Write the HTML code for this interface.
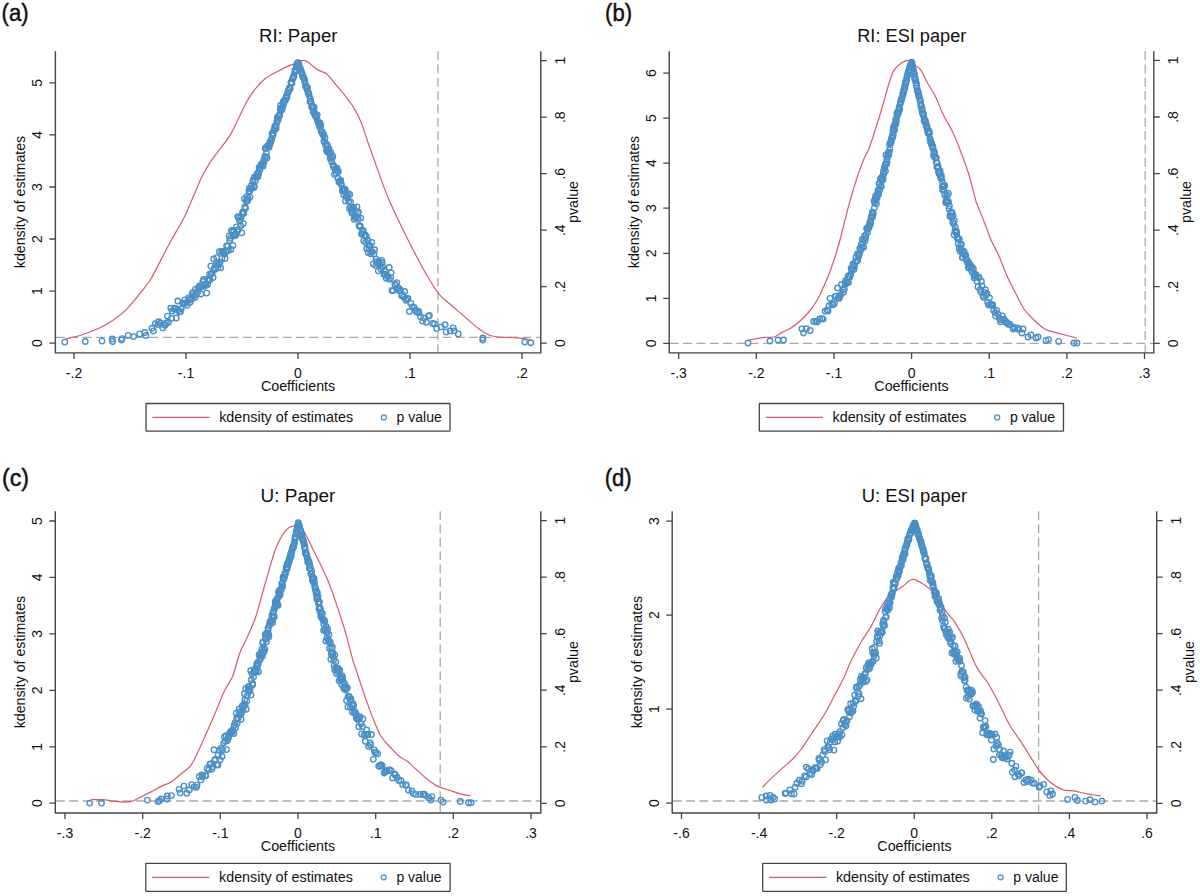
<!DOCTYPE html>
<html><head><meta charset="utf-8"><style>
html,body{margin:0;padding:0;background:#fff;}
svg{display:block;}
text{font-family:"Liberation Sans", sans-serif;fill:#111;}
</style></head><body>
<svg width="1200" height="896" viewBox="0 0 1200 896">
<rect width="1200" height="896" fill="#fff"/>
<text x="1.6" y="21" font-size="23.5" stroke="#111" stroke-width="0.45" textLength="27" lengthAdjust="spacingAndGlyphs">(a)</text>
<text x="298.2" y="42.4" font-size="18" text-anchor="middle" textLength="78.4" lengthAdjust="spacingAndGlyphs">RI: Paper</text>
<line x1="56" y1="337.4" x2="540.2" y2="337.4" stroke="#a8a8a8" stroke-width="1.3" stroke-dasharray="8.8 4.53"/>
<line x1="437.9" y1="51.2" x2="437.9" y2="352.2" stroke="#a8a8a8" stroke-width="1.3" stroke-dasharray="8.8 4.53"/>
<path d="M65.2 339.0 C67.9 338.3 75.7 336.9 81.5 335.0 C87.3 333.1 94.8 330.2 99.9 327.8 C105.0 325.4 107.8 323.8 112.2 320.7 C116.6 317.6 121.4 314.5 126.5 309.4 C131.6 304.3 138.7 295.1 142.8 290.0 C146.9 284.9 147.9 283.9 151.0 278.8 C154.1 273.7 157.8 265.9 161.2 259.4 C164.6 252.9 167.7 246.8 171.4 240.0 C175.1 233.2 180.1 225.5 183.6 218.6 C187.1 211.7 189.4 205.5 192.5 198.5 C195.6 191.5 199.1 182.6 202.0 176.6 C204.9 170.6 207.5 166.6 210.2 162.3 C212.9 158.1 215.0 155.6 218.3 151.1 C221.6 146.6 226.3 141.6 230.0 135.4 C233.7 129.2 237.7 119.9 240.7 113.9 C243.7 107.9 245.2 104.1 247.9 99.6 C250.6 95.1 253.8 90.7 256.8 87.1 C259.8 83.5 262.4 80.7 265.7 78.2 C269.0 75.7 272.8 73.9 276.4 72.0 C280.0 70.1 284.1 67.9 287.1 66.6 C290.1 65.2 292.2 64.7 294.3 63.9 C296.4 63.1 298.0 62.2 299.5 61.6 C301.0 61.0 302.0 60.3 303.4 60.4 C304.8 60.5 305.7 60.6 307.9 62.1 C310.1 63.6 314.5 67.7 316.8 69.3 C319.1 70.9 319.7 70.6 321.5 71.5 C323.3 72.4 325.0 72.3 327.5 74.6 C330.0 76.9 333.4 81.8 336.4 85.4 C339.4 89.0 342.4 92.2 345.4 96.1 C348.4 100.0 351.6 104.1 354.3 108.6 C357.0 113.1 359.0 117.0 361.4 122.9 C363.8 128.9 365.9 136.4 368.6 144.3 C371.4 152.2 374.6 161.3 377.9 170.4 C381.2 179.5 384.7 189.7 388.6 198.9 C392.5 208.1 396.9 217.1 401.1 225.7 C405.3 234.3 409.4 242.7 413.6 250.7 C417.8 258.7 421.9 266.8 426.1 273.9 C430.3 281.0 434.6 288.5 438.6 293.6 C442.6 298.7 445.9 300.5 450.2 304.3 C454.5 308.1 459.8 312.5 464.5 316.6 C469.2 320.7 474.6 325.7 478.7 328.8 C482.8 331.9 485.6 333.6 489.0 335.0 C492.4 336.4 494.8 336.6 499.2 337.0 C503.6 337.4 510.4 337.2 515.5 337.6 C520.6 338.0 527.4 339.1 529.8 339.4" fill="none" stroke="#dc5868" stroke-width="1.2" stroke-linejoin="round"/>
<g fill="none" stroke="#4a8fc5" stroke-width="1.35"><circle cx="298.0" cy="63.2" r="2.75"/><circle cx="236.3" cy="234.5" r="2.75"/><circle cx="220.7" cy="267.8" r="2.75"/><circle cx="215.3" cy="269.3" r="2.75"/><circle cx="341.0" cy="183.7" r="2.75"/><circle cx="262.2" cy="164.1" r="2.75"/><circle cx="227.3" cy="250.8" r="2.75"/><circle cx="328.1" cy="149.0" r="2.75"/><circle cx="396.8" cy="282.6" r="2.75"/><circle cx="351.3" cy="210.3" r="2.75"/><circle cx="369.1" cy="245.2" r="2.75"/><circle cx="239.0" cy="217.8" r="2.75"/><circle cx="210.8" cy="266.1" r="2.75"/><circle cx="319.2" cy="124.0" r="2.75"/><circle cx="258.7" cy="173.6" r="2.75"/><circle cx="207.5" cy="279.4" r="2.75"/><circle cx="253.2" cy="180.0" r="2.75"/><circle cx="171.5" cy="318.3" r="2.75"/><circle cx="286.5" cy="95.8" r="2.75"/><circle cx="234.2" cy="235.6" r="2.75"/><circle cx="314.6" cy="114.2" r="2.75"/><circle cx="300.2" cy="69.2" r="2.75"/><circle cx="265.2" cy="148.4" r="2.75"/><circle cx="345.5" cy="200.9" r="2.75"/><circle cx="338.9" cy="182.0" r="2.75"/><circle cx="289.9" cy="89.0" r="2.75"/><circle cx="419.0" cy="312.7" r="2.75"/><circle cx="288.4" cy="90.4" r="2.75"/><circle cx="215.0" cy="268.2" r="2.75"/><circle cx="403.7" cy="297.1" r="2.75"/><circle cx="279.7" cy="114.7" r="2.75"/><circle cx="216.4" cy="262.6" r="2.75"/><circle cx="184.8" cy="299.9" r="2.75"/><circle cx="247.8" cy="200.3" r="2.75"/><circle cx="296.4" cy="66.8" r="2.75"/><circle cx="353.0" cy="212.1" r="2.75"/><circle cx="394.8" cy="283.9" r="2.75"/><circle cx="313.3" cy="112.0" r="2.75"/><circle cx="450.2" cy="330.9" r="2.75"/><circle cx="428.3" cy="316.1" r="2.75"/><circle cx="207.6" cy="284.5" r="2.75"/><circle cx="333.9" cy="166.9" r="2.75"/><circle cx="248.2" cy="198.4" r="2.75"/><circle cx="281.7" cy="107.6" r="2.75"/><circle cx="112.2" cy="339.0" r="2.75"/><circle cx="316.0" cy="115.9" r="2.75"/><circle cx="184.0" cy="303.1" r="2.75"/><circle cx="204.1" cy="286.4" r="2.75"/><circle cx="259.9" cy="169.9" r="2.75"/><circle cx="190.1" cy="302.3" r="2.75"/><circle cx="262.6" cy="163.4" r="2.75"/><circle cx="255.8" cy="176.6" r="2.75"/><circle cx="458.3" cy="333.9" r="2.75"/><circle cx="318.7" cy="123.8" r="2.75"/><circle cx="337.7" cy="171.2" r="2.75"/><circle cx="238.5" cy="229.5" r="2.75"/><circle cx="359.6" cy="226.5" r="2.75"/><circle cx="294.0" cy="76.0" r="2.75"/><circle cx="282.1" cy="109.3" r="2.75"/><circle cx="269.1" cy="147.3" r="2.75"/><circle cx="239.6" cy="220.7" r="2.75"/><circle cx="363.7" cy="240.8" r="2.75"/><circle cx="232.9" cy="245.4" r="2.75"/><circle cx="307.2" cy="89.2" r="2.75"/><circle cx="365.2" cy="234.8" r="2.75"/><circle cx="226.5" cy="245.8" r="2.75"/><circle cx="283.1" cy="101.9" r="2.75"/><circle cx="231.5" cy="230.4" r="2.75"/><circle cx="314.1" cy="107.4" r="2.75"/><circle cx="446.1" cy="331.9" r="2.75"/><circle cx="329.8" cy="154.4" r="2.75"/><circle cx="237.2" cy="230.3" r="2.75"/><circle cx="310.0" cy="101.4" r="2.75"/><circle cx="453.2" cy="327.8" r="2.75"/><circle cx="294.6" cy="72.3" r="2.75"/><circle cx="211.1" cy="274.2" r="2.75"/><circle cx="329.0" cy="149.0" r="2.75"/><circle cx="292.5" cy="78.8" r="2.75"/><circle cx="257.9" cy="176.5" r="2.75"/><circle cx="151.9" cy="328.2" r="2.75"/><circle cx="264.9" cy="156.5" r="2.75"/><circle cx="323.8" cy="134.9" r="2.75"/><circle cx="157.8" cy="324.5" r="2.75"/><circle cx="333.2" cy="165.9" r="2.75"/><circle cx="272.1" cy="133.7" r="2.75"/><circle cx="248.9" cy="191.0" r="2.75"/><circle cx="271.5" cy="139.5" r="2.75"/><circle cx="350.9" cy="207.2" r="2.75"/><circle cx="311.6" cy="107.2" r="2.75"/><circle cx="312.7" cy="107.0" r="2.75"/><circle cx="179.5" cy="312.1" r="2.75"/><circle cx="326.9" cy="151.5" r="2.75"/><circle cx="198.4" cy="287.8" r="2.75"/><circle cx="374.6" cy="249.7" r="2.75"/><circle cx="244.4" cy="198.8" r="2.75"/><circle cx="303.0" cy="77.3" r="2.75"/><circle cx="268.4" cy="145.3" r="2.75"/><circle cx="317.2" cy="114.8" r="2.75"/><circle cx="324.5" cy="142.2" r="2.75"/><circle cx="304.6" cy="80.8" r="2.75"/><circle cx="335.9" cy="173.1" r="2.75"/><circle cx="423.8" cy="318.1" r="2.75"/><circle cx="330.8" cy="152.7" r="2.75"/><circle cx="382.7" cy="266.9" r="2.75"/><circle cx="366.4" cy="236.4" r="2.75"/><circle cx="240.3" cy="220.1" r="2.75"/><circle cx="274.2" cy="130.2" r="2.75"/><circle cx="375.7" cy="265.6" r="2.75"/><circle cx="295.1" cy="70.1" r="2.75"/><circle cx="64.8" cy="342.1" r="2.75"/><circle cx="229.2" cy="236.0" r="2.75"/><circle cx="187.6" cy="301.8" r="2.75"/><circle cx="219.1" cy="264.5" r="2.75"/><circle cx="362.5" cy="231.7" r="2.75"/><circle cx="195.0" cy="297.4" r="2.75"/><circle cx="279.3" cy="116.1" r="2.75"/><circle cx="295.5" cy="71.3" r="2.75"/><circle cx="302.4" cy="75.4" r="2.75"/><circle cx="189.7" cy="299.4" r="2.75"/><circle cx="213.7" cy="259.0" r="2.75"/><circle cx="387.0" cy="275.3" r="2.75"/><circle cx="355.4" cy="211.5" r="2.75"/><circle cx="321.1" cy="131.2" r="2.75"/><circle cx="323.9" cy="141.1" r="2.75"/><circle cx="266.5" cy="153.3" r="2.75"/><circle cx="247.3" cy="200.9" r="2.75"/><circle cx="263.9" cy="159.9" r="2.75"/><circle cx="217.7" cy="264.6" r="2.75"/><circle cx="344.3" cy="189.5" r="2.75"/><circle cx="275.1" cy="126.4" r="2.75"/><circle cx="329.1" cy="152.3" r="2.75"/><circle cx="416.6" cy="312.0" r="2.75"/><circle cx="358.1" cy="218.4" r="2.75"/><circle cx="384.3" cy="270.2" r="2.75"/><circle cx="290.9" cy="82.4" r="2.75"/><circle cx="236.5" cy="226.9" r="2.75"/><circle cx="273.8" cy="130.3" r="2.75"/><circle cx="162.8" cy="327.9" r="2.75"/><circle cx="158.6" cy="321.7" r="2.75"/><circle cx="191.6" cy="299.2" r="2.75"/><circle cx="168.5" cy="322.2" r="2.75"/><circle cx="341.5" cy="184.8" r="2.75"/><circle cx="320.0" cy="122.9" r="2.75"/><circle cx="333.5" cy="165.1" r="2.75"/><circle cx="344.5" cy="189.7" r="2.75"/><circle cx="249.7" cy="191.1" r="2.75"/><circle cx="187.0" cy="305.3" r="2.75"/><circle cx="284.9" cy="100.6" r="2.75"/><circle cx="347.3" cy="196.3" r="2.75"/><circle cx="210.0" cy="279.8" r="2.75"/><circle cx="322.0" cy="132.1" r="2.75"/><circle cx="339.5" cy="181.4" r="2.75"/><circle cx="217.9" cy="267.8" r="2.75"/><circle cx="220.1" cy="262.1" r="2.75"/><circle cx="240.8" cy="225.7" r="2.75"/><circle cx="352.5" cy="208.6" r="2.75"/><circle cx="196.1" cy="294.7" r="2.75"/><circle cx="422.6" cy="321.1" r="2.75"/><circle cx="374.1" cy="254.0" r="2.75"/><circle cx="398.5" cy="288.0" r="2.75"/><circle cx="167.4" cy="316.1" r="2.75"/><circle cx="288.1" cy="92.6" r="2.75"/><circle cx="177.9" cy="309.8" r="2.75"/><circle cx="330.3" cy="158.4" r="2.75"/><circle cx="112.6" cy="341.5" r="2.75"/><circle cx="202.1" cy="286.0" r="2.75"/><circle cx="372.4" cy="251.9" r="2.75"/><circle cx="277.3" cy="117.6" r="2.75"/><circle cx="308.7" cy="93.6" r="2.75"/><circle cx="285.8" cy="97.8" r="2.75"/><circle cx="429.4" cy="315.5" r="2.75"/><circle cx="250.8" cy="188.4" r="2.75"/><circle cx="295.9" cy="69.7" r="2.75"/><circle cx="202.9" cy="281.5" r="2.75"/><circle cx="386.2" cy="278.2" r="2.75"/><circle cx="317.4" cy="120.2" r="2.75"/><circle cx="200.8" cy="294.0" r="2.75"/><circle cx="305.6" cy="85.9" r="2.75"/><circle cx="315.7" cy="116.7" r="2.75"/><circle cx="320.2" cy="127.2" r="2.75"/><circle cx="250.0" cy="197.1" r="2.75"/><circle cx="371.4" cy="251.7" r="2.75"/><circle cx="382.2" cy="262.7" r="2.75"/><circle cx="175.4" cy="308.2" r="2.75"/><circle cx="358.4" cy="212.1" r="2.75"/><circle cx="246.3" cy="201.1" r="2.75"/><circle cx="326.1" cy="143.9" r="2.75"/><circle cx="318.2" cy="122.3" r="2.75"/><circle cx="254.3" cy="186.5" r="2.75"/><circle cx="180.5" cy="311.4" r="2.75"/><circle cx="303.6" cy="77.8" r="2.75"/><circle cx="316.7" cy="116.8" r="2.75"/><circle cx="244.9" cy="207.0" r="2.75"/><circle cx="235.7" cy="234.3" r="2.75"/><circle cx="197.5" cy="292.4" r="2.75"/><circle cx="272.9" cy="135.6" r="2.75"/><circle cx="276.9" cy="121.7" r="2.75"/><circle cx="251.6" cy="188.4" r="2.75"/><circle cx="291.2" cy="82.7" r="2.75"/><circle cx="274.7" cy="126.4" r="2.75"/><circle cx="192.3" cy="293.4" r="2.75"/><circle cx="482.8" cy="338.0" r="2.75"/><circle cx="400.3" cy="289.8" r="2.75"/><circle cx="267.0" cy="157.9" r="2.75"/><circle cx="145.9" cy="335.4" r="2.75"/><circle cx="233.7" cy="230.7" r="2.75"/><circle cx="303.8" cy="77.9" r="2.75"/><circle cx="278.2" cy="119.9" r="2.75"/><circle cx="319.5" cy="126.6" r="2.75"/><circle cx="267.7" cy="146.4" r="2.75"/><circle cx="297.4" cy="63.2" r="2.75"/><circle cx="234.9" cy="235.7" r="2.75"/><circle cx="342.3" cy="190.8" r="2.75"/><circle cx="213.1" cy="277.5" r="2.75"/><circle cx="155.3" cy="323.6" r="2.75"/><circle cx="257.0" cy="177.0" r="2.75"/><circle cx="342.7" cy="188.5" r="2.75"/><circle cx="260.2" cy="166.8" r="2.75"/><circle cx="367.7" cy="240.5" r="2.75"/><circle cx="405.9" cy="300.2" r="2.75"/><circle cx="378.9" cy="261.5" r="2.75"/><circle cx="315.1" cy="114.9" r="2.75"/><circle cx="399.3" cy="290.7" r="2.75"/><circle cx="301.3" cy="71.8" r="2.75"/><circle cx="389.2" cy="267.5" r="2.75"/><circle cx="261.0" cy="165.6" r="2.75"/><circle cx="299.3" cy="66.6" r="2.75"/><circle cx="243.8" cy="213.3" r="2.75"/><circle cx="221.9" cy="258.4" r="2.75"/><circle cx="356.5" cy="217.3" r="2.75"/><circle cx="286.3" cy="98.2" r="2.75"/><circle cx="254.6" cy="176.8" r="2.75"/><circle cx="228.4" cy="250.6" r="2.75"/><circle cx="242.7" cy="212.0" r="2.75"/><circle cx="177.8" cy="301.0" r="2.75"/><circle cx="289.2" cy="88.5" r="2.75"/><circle cx="308.6" cy="93.1" r="2.75"/><circle cx="336.6" cy="170.6" r="2.75"/><circle cx="223.9" cy="252.8" r="2.75"/><circle cx="335.0" cy="169.2" r="2.75"/><circle cx="259.1" cy="167.7" r="2.75"/><circle cx="301.7" cy="72.2" r="2.75"/><circle cx="241.8" cy="232.8" r="2.75"/><circle cx="370.0" cy="245.6" r="2.75"/><circle cx="282.4" cy="107.3" r="2.75"/><circle cx="224.6" cy="254.0" r="2.75"/><circle cx="263.1" cy="166.1" r="2.75"/><circle cx="283.3" cy="104.9" r="2.75"/><circle cx="102.0" cy="341.1" r="2.75"/><circle cx="291.5" cy="82.9" r="2.75"/><circle cx="153.4" cy="330.9" r="2.75"/><circle cx="322.3" cy="132.2" r="2.75"/><circle cx="165.2" cy="325.0" r="2.75"/><circle cx="188.6" cy="297.8" r="2.75"/><circle cx="304.3" cy="79.1" r="2.75"/><circle cx="349.5" cy="208.4" r="2.75"/><circle cx="310.4" cy="98.8" r="2.75"/><circle cx="393.1" cy="290.6" r="2.75"/><circle cx="160.5" cy="322.8" r="2.75"/><circle cx="225.0" cy="258.5" r="2.75"/><circle cx="166.4" cy="323.0" r="2.75"/><circle cx="320.6" cy="125.0" r="2.75"/><circle cx="242.3" cy="213.7" r="2.75"/><circle cx="265.5" cy="157.0" r="2.75"/><circle cx="412.3" cy="306.8" r="2.75"/><circle cx="285.4" cy="100.3" r="2.75"/><circle cx="361.5" cy="234.1" r="2.75"/><circle cx="346.7" cy="194.9" r="2.75"/><circle cx="227.9" cy="246.0" r="2.75"/><circle cx="269.3" cy="145.0" r="2.75"/><circle cx="409.4" cy="311.5" r="2.75"/><circle cx="369.0" cy="249.0" r="2.75"/><circle cx="195.3" cy="289.4" r="2.75"/><circle cx="354.4" cy="217.1" r="2.75"/><circle cx="212.2" cy="272.7" r="2.75"/><circle cx="270.3" cy="143.4" r="2.75"/><circle cx="121.4" cy="340.1" r="2.75"/><circle cx="360.3" cy="226.1" r="2.75"/><circle cx="172.2" cy="311.0" r="2.75"/><circle cx="376.0" cy="259.1" r="2.75"/><circle cx="222.7" cy="251.3" r="2.75"/><circle cx="338.4" cy="171.4" r="2.75"/><circle cx="226.0" cy="251.6" r="2.75"/><circle cx="309.2" cy="95.7" r="2.75"/><circle cx="340.1" cy="181.2" r="2.75"/><circle cx="327.5" cy="145.4" r="2.75"/><circle cx="345.2" cy="189.3" r="2.75"/><circle cx="332.4" cy="157.1" r="2.75"/><circle cx="337.9" cy="178.2" r="2.75"/><circle cx="307.8" cy="91.7" r="2.75"/><circle cx="264.0" cy="162.0" r="2.75"/><circle cx="193.6" cy="295.6" r="2.75"/><circle cx="378.3" cy="270.8" r="2.75"/><circle cx="373.3" cy="263.9" r="2.75"/><circle cx="289.3" cy="88.2" r="2.75"/><circle cx="204.8" cy="284.3" r="2.75"/><circle cx="243.3" cy="223.6" r="2.75"/><circle cx="349.7" cy="194.5" r="2.75"/><circle cx="223.1" cy="252.2" r="2.75"/><circle cx="219.3" cy="251.6" r="2.75"/><circle cx="350.6" cy="202.2" r="2.75"/><circle cx="379.6" cy="264.2" r="2.75"/><circle cx="343.8" cy="194.7" r="2.75"/><circle cx="322.9" cy="135.0" r="2.75"/><circle cx="299.0" cy="65.5" r="2.75"/><circle cx="445.0" cy="324.7" r="2.75"/><circle cx="426.4" cy="322.2" r="2.75"/><circle cx="524.7" cy="342.1" r="2.75"/><circle cx="328.4" cy="152.2" r="2.75"/><circle cx="347.7" cy="198.5" r="2.75"/><circle cx="193.3" cy="292.3" r="2.75"/><circle cx="454.2" cy="330.9" r="2.75"/><circle cx="290.2" cy="87.9" r="2.75"/><circle cx="326.5" cy="150.5" r="2.75"/><circle cx="391.1" cy="272.8" r="2.75"/><circle cx="270.7" cy="141.8" r="2.75"/><circle cx="432.7" cy="323.5" r="2.75"/><circle cx="85.2" cy="341.5" r="2.75"/><circle cx="230.4" cy="238.3" r="2.75"/><circle cx="353.7" cy="207.3" r="2.75"/><circle cx="252.9" cy="181.7" r="2.75"/><circle cx="360.7" cy="218.1" r="2.75"/><circle cx="246.8" cy="196.7" r="2.75"/><circle cx="371.8" cy="242.5" r="2.75"/><circle cx="366.7" cy="248.7" r="2.75"/><circle cx="251.1" cy="185.9" r="2.75"/><circle cx="296.9" cy="65.8" r="2.75"/><circle cx="229.7" cy="240.7" r="2.75"/><circle cx="357.7" cy="212.7" r="2.75"/><circle cx="277.9" cy="118.1" r="2.75"/><circle cx="292.9" cy="78.4" r="2.75"/><circle cx="292.0" cy="83.1" r="2.75"/><circle cx="390.7" cy="277.6" r="2.75"/><circle cx="404.6" cy="291.5" r="2.75"/><circle cx="280.7" cy="105.5" r="2.75"/><circle cx="323.1" cy="133.8" r="2.75"/><circle cx="293.5" cy="76.7" r="2.75"/><circle cx="253.9" cy="187.4" r="2.75"/><circle cx="299.8" cy="67.7" r="2.75"/><circle cx="370.6" cy="253.8" r="2.75"/><circle cx="401.7" cy="295.8" r="2.75"/><circle cx="332.8" cy="156.4" r="2.75"/><circle cx="182.8" cy="303.3" r="2.75"/><circle cx="209.6" cy="274.2" r="2.75"/><circle cx="275.5" cy="127.2" r="2.75"/><circle cx="278.7" cy="116.0" r="2.75"/><circle cx="185.4" cy="303.2" r="2.75"/><circle cx="408.0" cy="298.3" r="2.75"/><circle cx="273.1" cy="133.2" r="2.75"/><circle cx="359.1" cy="225.5" r="2.75"/><circle cx="336.9" cy="168.2" r="2.75"/><circle cx="354.1" cy="219.2" r="2.75"/><circle cx="305.1" cy="82.8" r="2.75"/><circle cx="284.6" cy="100.1" r="2.75"/><circle cx="296.9" cy="65.1" r="2.75"/><circle cx="436.6" cy="328.4" r="2.75"/><circle cx="298.3" cy="62.7" r="2.75"/><circle cx="249.3" cy="188.4" r="2.75"/><circle cx="306.1" cy="86.8" r="2.75"/><circle cx="221.6" cy="251.3" r="2.75"/><circle cx="199.6" cy="286.0" r="2.75"/><circle cx="530.8" cy="342.7" r="2.75"/><circle cx="216.7" cy="257.6" r="2.75"/><circle cx="306.6" cy="87.4" r="2.75"/><circle cx="133.6" cy="336.6" r="2.75"/><circle cx="420.5" cy="316.8" r="2.75"/><circle cx="307.4" cy="87.3" r="2.75"/><circle cx="314.4" cy="112.5" r="2.75"/><circle cx="363.2" cy="230.3" r="2.75"/><circle cx="208.6" cy="280.6" r="2.75"/><circle cx="214.4" cy="268.2" r="2.75"/><circle cx="252.3" cy="187.9" r="2.75"/><circle cx="287.7" cy="92.9" r="2.75"/><circle cx="312.0" cy="105.6" r="2.75"/><circle cx="271.5" cy="139.0" r="2.75"/><circle cx="283.7" cy="102.7" r="2.75"/><circle cx="174.0" cy="309.0" r="2.75"/><circle cx="348.3" cy="193.7" r="2.75"/><circle cx="176.3" cy="318.0" r="2.75"/><circle cx="364.1" cy="235.9" r="2.75"/><circle cx="385.2" cy="274.2" r="2.75"/><circle cx="346.1" cy="195.7" r="2.75"/><circle cx="302.2" cy="74.0" r="2.75"/><circle cx="407.2" cy="298.7" r="2.75"/><circle cx="261.3" cy="164.5" r="2.75"/><circle cx="381.7" cy="260.3" r="2.75"/><circle cx="415.2" cy="310.2" r="2.75"/><circle cx="237.8" cy="216.7" r="2.75"/><circle cx="482.8" cy="340.0" r="2.75"/><circle cx="181.2" cy="308.8" r="2.75"/><circle cx="389.4" cy="279.3" r="2.75"/><circle cx="200.3" cy="286.1" r="2.75"/><circle cx="331.7" cy="161.8" r="2.75"/><circle cx="258.1" cy="172.8" r="2.75"/><circle cx="206.7" cy="293.1" r="2.75"/><circle cx="203.7" cy="279.5" r="2.75"/><circle cx="310.6" cy="101.1" r="2.75"/><circle cx="355.5" cy="217.3" r="2.75"/><circle cx="231.9" cy="232.1" r="2.75"/><circle cx="357.0" cy="206.8" r="2.75"/><circle cx="245.6" cy="208.2" r="2.75"/><circle cx="377.8" cy="263.6" r="2.75"/><circle cx="276.3" cy="124.9" r="2.75"/><circle cx="311.0" cy="102.2" r="2.75"/><circle cx="266.1" cy="147.7" r="2.75"/><circle cx="164.2" cy="325.1" r="2.75"/><circle cx="205.8" cy="285.3" r="2.75"/><circle cx="267.5" cy="145.9" r="2.75"/><circle cx="312.9" cy="108.0" r="2.75"/><circle cx="351.8" cy="212.9" r="2.75"/><circle cx="402.4" cy="294.4" r="2.75"/><circle cx="287.0" cy="97.3" r="2.75"/><circle cx="199.2" cy="288.2" r="2.75"/><circle cx="335.9" cy="168.5" r="2.75"/><circle cx="233.1" cy="235.7" r="2.75"/><circle cx="122.0" cy="338.6" r="2.75"/><circle cx="392.0" cy="290.5" r="2.75"/><circle cx="395.5" cy="285.1" r="2.75"/><circle cx="368.2" cy="252.6" r="2.75"/><circle cx="300.6" cy="69.4" r="2.75"/><circle cx="396.6" cy="288.7" r="2.75"/><circle cx="410.9" cy="303.4" r="2.75"/><circle cx="128.1" cy="335.4" r="2.75"/><circle cx="376.7" cy="261.7" r="2.75"/><circle cx="331.1" cy="158.6" r="2.75"/><circle cx="139.7" cy="333.9" r="2.75"/><circle cx="255.5" cy="180.7" r="2.75"/><circle cx="256.2" cy="176.8" r="2.75"/><circle cx="276.1" cy="128.4" r="2.75"/><circle cx="257.1" cy="173.9" r="2.75"/><circle cx="261.8" cy="165.4" r="2.75"/><circle cx="230.8" cy="249.5" r="2.75"/><circle cx="170.8" cy="308.2" r="2.75"/><circle cx="383.9" cy="274.3" r="2.75"/><circle cx="414.1" cy="307.3" r="2.75"/><circle cx="340.8" cy="180.5" r="2.75"/><circle cx="380.9" cy="269.0" r="2.75"/><circle cx="325.6" cy="144.9" r="2.75"/><circle cx="144.8" cy="332.5" r="2.75"/><circle cx="441.0" cy="326.8" r="2.75"/><circle cx="365.7" cy="242.4" r="2.75"/><circle cx="342.9" cy="190.5" r="2.75"/><circle cx="270.0" cy="141.9" r="2.75"/><circle cx="334.5" cy="174.4" r="2.75"/><circle cx="387.8" cy="276.8" r="2.75"/><circle cx="325.0" cy="137.7" r="2.75"/><circle cx="348.7" cy="201.2" r="2.75"/><circle cx="418.5" cy="311.2" r="2.75"/><circle cx="280.3" cy="109.4" r="2.75"/><circle cx="361.8" cy="233.6" r="2.75"/><circle cx="241.2" cy="216.7" r="2.75"/><circle cx="434.5" cy="323.9" r="2.75"/><circle cx="281.3" cy="110.6" r="2.75"/></g>
<path d="M55.4 51.2 V352.9 H540.8 V51.2" fill="none" stroke="#454545" stroke-width="1.4" stroke-linejoin="round"/>
<text x="74.0" y="377.5" font-size="14" text-anchor="middle">-.2</text>
<text x="186.0" y="377.5" font-size="14" text-anchor="middle">-.1</text>
<text x="298.0" y="377.5" font-size="14" text-anchor="middle">0</text>
<text x="410.0" y="377.5" font-size="14" text-anchor="middle">.1</text>
<text x="522.0" y="377.5" font-size="14" text-anchor="middle">.2</text>
<text transform="translate(42.3 343.2) rotate(-90)" font-size="14" text-anchor="middle">0</text>
<text transform="translate(42.3 291.1) rotate(-90)" font-size="14" text-anchor="middle">1</text>
<text transform="translate(42.3 239.0) rotate(-90)" font-size="14" text-anchor="middle">2</text>
<text transform="translate(42.3 187.0) rotate(-90)" font-size="14" text-anchor="middle">3</text>
<text transform="translate(42.3 134.9) rotate(-90)" font-size="14" text-anchor="middle">4</text>
<text transform="translate(42.3 82.8) rotate(-90)" font-size="14" text-anchor="middle">5</text>
<text transform="translate(565 343.2) rotate(-90)" font-size="14" text-anchor="middle">0</text>
<text transform="translate(565 286.7) rotate(-90)" font-size="14" text-anchor="middle">.2</text>
<text transform="translate(565 230.2) rotate(-90)" font-size="14" text-anchor="middle">.4</text>
<text transform="translate(565 173.7) rotate(-90)" font-size="14" text-anchor="middle">.6</text>
<text transform="translate(565 117.2) rotate(-90)" font-size="14" text-anchor="middle">.8</text>
<text transform="translate(565 60.6) rotate(-90)" font-size="14" text-anchor="middle">1</text>
<path d="M74.0 352.9 v6 M186.0 352.9 v6 M298.0 352.9 v6 M410.0 352.9 v6 M522.0 352.9 v6 M55.4 343.2 h-6 M55.4 291.1 h-6 M55.4 239.0 h-6 M55.4 187.0 h-6 M55.4 134.9 h-6 M55.4 82.8 h-6 M540.8 343.2 h6 M540.8 286.7 h6 M540.8 230.2 h6 M540.8 173.7 h6 M540.8 117.2 h6 M540.8 60.6 h6" stroke="#454545" stroke-width="1.3"/>
<text x="298.1" y="391.2" font-size="14" text-anchor="middle" textLength="74.3" lengthAdjust="spacingAndGlyphs">Coefficients</text>
<text transform="translate(25.2 202.0) rotate(-90)" font-size="15" text-anchor="middle" textLength="132.4" lengthAdjust="spacingAndGlyphs">kdensity of estimates</text>
<text transform="translate(578.4 202.0) rotate(-90)" font-size="15" text-anchor="middle" textLength="42" lengthAdjust="spacingAndGlyphs">pvalue</text>
<rect x="146" y="403.5" width="304" height="27.7" fill="none" stroke="#454545" stroke-width="1.3" stroke-linejoin="round" rx="0.6"/>
<line x1="152.4" y1="417.4" x2="209.7" y2="417.4" stroke="#dc5868" stroke-width="1.2"/>
<text x="219.2" y="422.0" font-size="14" textLength="133.9" lengthAdjust="spacingAndGlyphs">kdensity of estimates</text>
<circle cx="383.9" cy="417.4" r="2.5" fill="none" stroke="#4a8fc5" stroke-width="1.25"/>
<text x="396.6" y="422.0" font-size="14">p value</text>
<text x="605.1" y="21" font-size="23.5" stroke="#111" stroke-width="0.45" textLength="27" lengthAdjust="spacingAndGlyphs">(b)</text>
<text x="911.8" y="42.3" font-size="18" text-anchor="middle" textLength="109.1" lengthAdjust="spacingAndGlyphs">RI: ESI paper</text>
<line x1="669.8" y1="343.3" x2="1153.2" y2="343.3" stroke="#a8a8a8" stroke-width="1.3" stroke-dasharray="8.8 4.53"/>
<line x1="1145.2" y1="51.2" x2="1145.2" y2="352.2" stroke="#a8a8a8" stroke-width="1.3" stroke-dasharray="8.8 4.53"/>
<path d="M749.0 340.0 C751.5 339.6 759.8 337.9 764.0 337.4 C768.2 336.9 771.0 337.8 774.0 337.0 C777.0 336.2 779.2 333.9 782.0 332.4 C784.8 330.9 788.0 329.9 791.0 328.0 C794.0 326.1 797.2 323.5 800.0 321.0 C802.8 318.5 805.3 316.2 808.0 313.0 C810.7 309.8 813.3 306.5 816.0 302.0 C818.7 297.5 821.3 292.0 824.0 286.0 C826.7 280.0 829.3 273.7 832.0 266.0 C834.7 258.3 837.7 248.3 840.0 240.0 C842.3 231.7 844.2 222.8 846.0 216.0 C847.8 209.2 848.6 205.5 850.5 199.1 C852.4 192.7 855.0 184.0 857.2 177.3 C859.4 170.6 862.0 163.7 863.9 158.9 C865.8 154.2 866.9 153.8 868.9 148.8 C870.9 143.8 873.4 135.7 875.6 128.7 C877.8 121.7 880.1 114.5 882.3 107.0 C884.5 99.5 887.0 89.7 889.0 83.5 C891.0 77.3 892.0 73.4 894.0 70.1 C896.0 66.8 898.5 65.0 900.8 63.4 C903.0 61.8 905.7 60.7 907.5 60.4 C909.3 60.1 910.1 60.6 911.5 61.5 C912.9 62.4 914.2 64.5 915.8 65.9 C917.4 67.3 919.1 67.4 920.9 70.1 C922.7 72.8 924.4 77.5 926.8 81.8 C929.2 86.1 932.4 90.5 935.2 96.1 C938.0 101.7 940.6 109.3 943.5 115.3 C946.4 121.3 949.9 126.2 952.7 132.1 C955.5 138.0 957.6 143.5 960.3 150.5 C963.0 157.5 966.2 165.9 968.7 174.0 C971.2 182.1 974.0 194.1 975.4 199.1 C976.8 204.1 975.4 199.8 977.0 204.0 C978.6 208.2 982.7 218.0 985.0 224.0 C987.3 230.0 988.7 234.7 991.0 240.0 C993.3 245.3 996.3 250.0 999.0 256.0 C1001.7 262.0 1004.3 270.0 1007.0 276.0 C1009.7 282.0 1012.2 286.5 1015.0 292.0 C1017.8 297.5 1021.0 304.5 1024.0 309.0 C1027.0 313.5 1029.5 315.7 1033.0 319.0 C1036.5 322.3 1040.3 326.5 1045.0 329.0 C1049.7 331.5 1055.7 332.5 1061.0 334.0 C1066.3 335.5 1074.3 337.3 1077.0 338.0" fill="none" stroke="#dc5868" stroke-width="1.2" stroke-linejoin="round"/>
<g fill="none" stroke="#4a8fc5" stroke-width="1.35"><circle cx="970.2" cy="264.6" r="2.75"/><circle cx="916.7" cy="85.8" r="2.75"/><circle cx="848.1" cy="276.0" r="2.75"/><circle cx="871.2" cy="217.2" r="2.75"/><circle cx="1058.6" cy="341.4" r="2.75"/><circle cx="914.9" cy="79.4" r="2.75"/><circle cx="1023.0" cy="329.0" r="2.75"/><circle cx="942.4" cy="186.7" r="2.75"/><circle cx="893.0" cy="130.4" r="2.75"/><circle cx="870.0" cy="222.2" r="2.75"/><circle cx="938.8" cy="171.7" r="2.75"/><circle cx="1012.7" cy="327.0" r="2.75"/><circle cx="901.2" cy="99.9" r="2.75"/><circle cx="925.1" cy="120.7" r="2.75"/><circle cx="911.2" cy="63.8" r="2.75"/><circle cx="930.9" cy="142.5" r="2.75"/><circle cx="935.4" cy="157.2" r="2.75"/><circle cx="923.7" cy="116.4" r="2.75"/><circle cx="919.2" cy="96.3" r="2.75"/><circle cx="894.5" cy="130.3" r="2.75"/><circle cx="923.1" cy="113.9" r="2.75"/><circle cx="874.3" cy="208.0" r="2.75"/><circle cx="855.5" cy="261.9" r="2.75"/><circle cx="975.3" cy="275.0" r="2.75"/><circle cx="921.9" cy="110.4" r="2.75"/><circle cx="987.7" cy="302.4" r="2.75"/><circle cx="856.8" cy="261.0" r="2.75"/><circle cx="864.5" cy="235.9" r="2.75"/><circle cx="937.2" cy="163.3" r="2.75"/><circle cx="993.6" cy="310.6" r="2.75"/><circle cx="911.1" cy="64.5" r="2.75"/><circle cx="936.4" cy="162.5" r="2.75"/><circle cx="862.3" cy="239.4" r="2.75"/><circle cx="901.3" cy="100.0" r="2.75"/><circle cx="958.8" cy="238.9" r="2.75"/><circle cx="961.9" cy="251.5" r="2.75"/><circle cx="917.0" cy="88.1" r="2.75"/><circle cx="1048.6" cy="339.6" r="2.75"/><circle cx="819.7" cy="318.9" r="2.75"/><circle cx="920.3" cy="100.5" r="2.75"/><circle cx="903.9" cy="89.9" r="2.75"/><circle cx="921.0" cy="106.4" r="2.75"/><circle cx="990.4" cy="304.6" r="2.75"/><circle cx="984.3" cy="292.3" r="2.75"/><circle cx="829.1" cy="305.6" r="2.75"/><circle cx="867.5" cy="232.2" r="2.75"/><circle cx="930.3" cy="139.8" r="2.75"/><circle cx="895.6" cy="119.6" r="2.75"/><circle cx="910.4" cy="67.3" r="2.75"/><circle cx="920.6" cy="103.7" r="2.75"/><circle cx="888.7" cy="154.9" r="2.75"/><circle cx="846.4" cy="282.2" r="2.75"/><circle cx="1077.0" cy="343.0" r="2.75"/><circle cx="898.4" cy="113.3" r="2.75"/><circle cx="875.7" cy="195.6" r="2.75"/><circle cx="1004.1" cy="319.2" r="2.75"/><circle cx="981.4" cy="281.2" r="2.75"/><circle cx="860.2" cy="248.4" r="2.75"/><circle cx="909.8" cy="68.2" r="2.75"/><circle cx="886.7" cy="163.9" r="2.75"/><circle cx="897.5" cy="114.5" r="2.75"/><circle cx="897.9" cy="112.2" r="2.75"/><circle cx="878.1" cy="190.1" r="2.75"/><circle cx="883.3" cy="171.5" r="2.75"/><circle cx="853.4" cy="265.1" r="2.75"/><circle cx="948.5" cy="201.9" r="2.75"/><circle cx="908.2" cy="72.4" r="2.75"/><circle cx="865.6" cy="238.1" r="2.75"/><circle cx="949.8" cy="215.7" r="2.75"/><circle cx="881.3" cy="186.5" r="2.75"/><circle cx="896.3" cy="120.9" r="2.75"/><circle cx="889.8" cy="148.8" r="2.75"/><circle cx="946.5" cy="202.2" r="2.75"/><circle cx="893.9" cy="126.2" r="2.75"/><circle cx="971.5" cy="270.3" r="2.75"/><circle cx="926.6" cy="127.0" r="2.75"/><circle cx="880.4" cy="178.9" r="2.75"/><circle cx="882.2" cy="180.5" r="2.75"/><circle cx="905.0" cy="87.8" r="2.75"/><circle cx="936.9" cy="167.1" r="2.75"/><circle cx="844.4" cy="289.0" r="2.75"/><circle cx="962.7" cy="257.3" r="2.75"/><circle cx="890.5" cy="143.6" r="2.75"/><circle cx="929.4" cy="133.6" r="2.75"/><circle cx="1002.2" cy="315.8" r="2.75"/><circle cx="909.8" cy="66.4" r="2.75"/><circle cx="942.8" cy="189.9" r="2.75"/><circle cx="954.9" cy="231.0" r="2.75"/><circle cx="940.8" cy="177.2" r="2.75"/><circle cx="975.7" cy="274.4" r="2.75"/><circle cx="1036.0" cy="338.0" r="2.75"/><circle cx="943.9" cy="189.4" r="2.75"/><circle cx="885.2" cy="165.0" r="2.75"/><circle cx="866.7" cy="228.5" r="2.75"/><circle cx="912.2" cy="65.3" r="2.75"/><circle cx="902.0" cy="97.9" r="2.75"/><circle cx="935.0" cy="157.4" r="2.75"/><circle cx="947.0" cy="202.0" r="2.75"/><circle cx="850.7" cy="274.2" r="2.75"/><circle cx="874.1" cy="200.8" r="2.75"/><circle cx="899.7" cy="109.3" r="2.75"/><circle cx="973.4" cy="269.0" r="2.75"/><circle cx="960.1" cy="251.2" r="2.75"/><circle cx="1017.5" cy="327.9" r="2.75"/><circle cx="827.1" cy="310.1" r="2.75"/><circle cx="930.0" cy="139.0" r="2.75"/><circle cx="954.1" cy="234.8" r="2.75"/><circle cx="925.4" cy="120.8" r="2.75"/><circle cx="1038.0" cy="337.0" r="2.75"/><circle cx="845.6" cy="280.7" r="2.75"/><circle cx="831.6" cy="304.0" r="2.75"/><circle cx="938.6" cy="171.3" r="2.75"/><circle cx="890.3" cy="142.6" r="2.75"/><circle cx="869.1" cy="225.4" r="2.75"/><circle cx="904.0" cy="90.5" r="2.75"/><circle cx="911.9" cy="62.7" r="2.75"/><circle cx="872.3" cy="212.2" r="2.75"/><circle cx="886.0" cy="154.9" r="2.75"/><circle cx="857.6" cy="260.5" r="2.75"/><circle cx="905.8" cy="81.2" r="2.75"/><circle cx="813.7" cy="321.4" r="2.75"/><circle cx="966.1" cy="259.0" r="2.75"/><circle cx="899.1" cy="108.0" r="2.75"/><circle cx="970.0" cy="265.7" r="2.75"/><circle cx="902.9" cy="93.1" r="2.75"/><circle cx="933.1" cy="148.5" r="2.75"/><circle cx="925.8" cy="123.5" r="2.75"/><circle cx="964.1" cy="251.4" r="2.75"/><circle cx="953.1" cy="215.9" r="2.75"/><circle cx="961.1" cy="248.4" r="2.75"/><circle cx="1006.8" cy="322.5" r="2.75"/><circle cx="875.5" cy="197.7" r="2.75"/><circle cx="954.4" cy="220.9" r="2.75"/><circle cx="978.0" cy="286.9" r="2.75"/><circle cx="926.3" cy="125.4" r="2.75"/><circle cx="861.3" cy="244.5" r="2.75"/><circle cx="887.1" cy="162.1" r="2.75"/><circle cx="985.5" cy="289.8" r="2.75"/><circle cx="884.7" cy="168.2" r="2.75"/><circle cx="930.5" cy="141.5" r="2.75"/><circle cx="806.4" cy="328.7" r="2.75"/><circle cx="953.7" cy="224.1" r="2.75"/><circle cx="1006.3" cy="322.8" r="2.75"/><circle cx="959.3" cy="239.1" r="2.75"/><circle cx="934.4" cy="152.1" r="2.75"/><circle cx="900.4" cy="102.5" r="2.75"/><circle cx="932.8" cy="147.5" r="2.75"/><circle cx="923.4" cy="113.6" r="2.75"/><circle cx="927.7" cy="131.7" r="2.75"/><circle cx="879.8" cy="190.0" r="2.75"/><circle cx="886.9" cy="159.1" r="2.75"/><circle cx="900.1" cy="104.1" r="2.75"/><circle cx="982.0" cy="285.8" r="2.75"/><circle cx="976.4" cy="276.4" r="2.75"/><circle cx="866.0" cy="234.8" r="2.75"/><circle cx="916.0" cy="82.9" r="2.75"/><circle cx="928.7" cy="133.8" r="2.75"/><circle cx="952.7" cy="222.2" r="2.75"/><circle cx="1001.2" cy="319.7" r="2.75"/><circle cx="961.4" cy="244.5" r="2.75"/><circle cx="891.2" cy="142.1" r="2.75"/><circle cx="935.7" cy="158.0" r="2.75"/><circle cx="836.0" cy="296.1" r="2.75"/><circle cx="832.9" cy="304.7" r="2.75"/><circle cx="946.3" cy="200.4" r="2.75"/><circle cx="966.4" cy="260.1" r="2.75"/><circle cx="987.1" cy="294.0" r="2.75"/><circle cx="854.0" cy="269.3" r="2.75"/><circle cx="918.4" cy="93.1" r="2.75"/><circle cx="896.9" cy="113.3" r="2.75"/><circle cx="835.4" cy="296.3" r="2.75"/><circle cx="962.3" cy="257.6" r="2.75"/><circle cx="859.4" cy="254.0" r="2.75"/><circle cx="914.5" cy="77.2" r="2.75"/><circle cx="904.3" cy="87.8" r="2.75"/><circle cx="978.4" cy="277.4" r="2.75"/><circle cx="1008.4" cy="324.3" r="2.75"/><circle cx="940.6" cy="177.6" r="2.75"/><circle cx="876.1" cy="199.9" r="2.75"/><circle cx="863.8" cy="239.3" r="2.75"/><circle cx="893.6" cy="127.5" r="2.75"/><circle cx="888.3" cy="152.6" r="2.75"/><circle cx="858.8" cy="256.2" r="2.75"/><circle cx="1013.2" cy="329.1" r="2.75"/><circle cx="825.2" cy="311.2" r="2.75"/><circle cx="882.7" cy="175.9" r="2.75"/><circle cx="897.8" cy="112.5" r="2.75"/><circle cx="828.1" cy="310.9" r="2.75"/><circle cx="992.4" cy="305.4" r="2.75"/><circle cx="906.4" cy="80.6" r="2.75"/><circle cx="907.5" cy="75.3" r="2.75"/><circle cx="855.9" cy="257.4" r="2.75"/><circle cx="905.9" cy="83.5" r="2.75"/><circle cx="885.5" cy="171.1" r="2.75"/><circle cx="991.5" cy="304.5" r="2.75"/><circle cx="957.7" cy="238.8" r="2.75"/><circle cx="876.4" cy="203.8" r="2.75"/><circle cx="847.2" cy="283.1" r="2.75"/><circle cx="843.5" cy="292.2" r="2.75"/><circle cx="909.4" cy="69.7" r="2.75"/><circle cx="939.6" cy="173.4" r="2.75"/><circle cx="778.0" cy="340.0" r="2.75"/><circle cx="904.7" cy="86.3" r="2.75"/><circle cx="926.9" cy="126.0" r="2.75"/><circle cx="979.1" cy="277.5" r="2.75"/><circle cx="917.2" cy="90.3" r="2.75"/><circle cx="840.6" cy="295.0" r="2.75"/><circle cx="932.6" cy="145.9" r="2.75"/><circle cx="931.2" cy="142.7" r="2.75"/><circle cx="956.8" cy="232.8" r="2.75"/><circle cx="932.0" cy="145.7" r="2.75"/><circle cx="863.7" cy="247.3" r="2.75"/><circle cx="898.7" cy="110.5" r="2.75"/><circle cx="924.0" cy="120.5" r="2.75"/><circle cx="911.7" cy="62.2" r="2.75"/><circle cx="859.8" cy="248.3" r="2.75"/><circle cx="947.3" cy="195.3" r="2.75"/><circle cx="821.9" cy="318.6" r="2.75"/><circle cx="841.5" cy="284.5" r="2.75"/><circle cx="938.1" cy="166.3" r="2.75"/><circle cx="945.3" cy="193.7" r="2.75"/><circle cx="914.0" cy="73.5" r="2.75"/><circle cx="972.5" cy="267.3" r="2.75"/><circle cx="907.0" cy="76.6" r="2.75"/><circle cx="998.2" cy="314.4" r="2.75"/><circle cx="955.3" cy="227.2" r="2.75"/><circle cx="933.8" cy="151.9" r="2.75"/><circle cx="865.0" cy="241.1" r="2.75"/><circle cx="945.7" cy="202.4" r="2.75"/><circle cx="968.4" cy="267.8" r="2.75"/><circle cx="839.7" cy="296.5" r="2.75"/><circle cx="1014.8" cy="328.0" r="2.75"/><circle cx="817.1" cy="321.9" r="2.75"/><circle cx="901.6" cy="98.9" r="2.75"/><circle cx="969.0" cy="267.4" r="2.75"/><circle cx="878.6" cy="194.4" r="2.75"/><circle cx="971.2" cy="267.7" r="2.75"/><circle cx="892.6" cy="137.4" r="2.75"/><circle cx="907.7" cy="75.1" r="2.75"/><circle cx="959.2" cy="248.5" r="2.75"/><circle cx="1028.0" cy="337.0" r="2.75"/><circle cx="895.9" cy="123.5" r="2.75"/><circle cx="933.5" cy="155.7" r="2.75"/><circle cx="995.3" cy="312.6" r="2.75"/><circle cx="922.2" cy="109.0" r="2.75"/><circle cx="823.2" cy="319.1" r="2.75"/><circle cx="944.0" cy="185.9" r="2.75"/><circle cx="899.2" cy="107.2" r="2.75"/><circle cx="1018.8" cy="329.6" r="2.75"/><circle cx="908.8" cy="70.9" r="2.75"/><circle cx="895.4" cy="124.5" r="2.75"/><circle cx="955.7" cy="232.4" r="2.75"/><circle cx="917.8" cy="91.4" r="2.75"/><circle cx="860.7" cy="250.3" r="2.75"/><circle cx="908.1" cy="72.6" r="2.75"/><circle cx="942.1" cy="180.9" r="2.75"/><circle cx="920.2" cy="100.5" r="2.75"/><circle cx="912.7" cy="68.0" r="2.75"/><circle cx="837.6" cy="288.0" r="2.75"/><circle cx="871.9" cy="215.3" r="2.75"/><circle cx="873.3" cy="213.4" r="2.75"/><circle cx="891.7" cy="137.9" r="2.75"/><circle cx="968.6" cy="262.1" r="2.75"/><circle cx="910.7" cy="65.0" r="2.75"/><circle cx="879.5" cy="184.0" r="2.75"/><circle cx="924.8" cy="122.1" r="2.75"/><circle cx="918.7" cy="94.9" r="2.75"/><circle cx="852.3" cy="269.2" r="2.75"/><circle cx="905.4" cy="83.1" r="2.75"/><circle cx="877.9" cy="192.5" r="2.75"/><circle cx="862.7" cy="244.1" r="2.75"/><circle cx="960.7" cy="245.0" r="2.75"/><circle cx="906.7" cy="78.9" r="2.75"/><circle cx="918.9" cy="96.2" r="2.75"/><circle cx="891.0" cy="141.1" r="2.75"/><circle cx="892.4" cy="135.2" r="2.75"/><circle cx="1000.4" cy="321.8" r="2.75"/><circle cx="999.4" cy="318.3" r="2.75"/><circle cx="887.5" cy="156.8" r="2.75"/><circle cx="983.6" cy="297.3" r="2.75"/><circle cx="949.1" cy="208.9" r="2.75"/><circle cx="963.4" cy="252.4" r="2.75"/><circle cx="944.7" cy="185.5" r="2.75"/><circle cx="1074.0" cy="343.0" r="2.75"/><circle cx="870.4" cy="224.0" r="2.75"/><circle cx="948.4" cy="193.4" r="2.75"/><circle cx="924.4" cy="119.1" r="2.75"/><circle cx="748.0" cy="343.0" r="2.75"/><circle cx="877.4" cy="194.9" r="2.75"/><circle cx="912.8" cy="66.7" r="2.75"/><circle cx="951.7" cy="216.8" r="2.75"/><circle cx="927.4" cy="128.5" r="2.75"/><circle cx="917.9" cy="91.8" r="2.75"/><circle cx="996.6" cy="310.3" r="2.75"/><circle cx="1031.0" cy="335.0" r="2.75"/><circle cx="903.4" cy="93.3" r="2.75"/><circle cx="862.0" cy="247.1" r="2.75"/><circle cx="842.9" cy="289.8" r="2.75"/><circle cx="889.6" cy="144.5" r="2.75"/><circle cx="921.4" cy="106.1" r="2.75"/><circle cx="854.5" cy="266.2" r="2.75"/><circle cx="867.1" cy="228.6" r="2.75"/><circle cx="783.6" cy="340.0" r="2.75"/><circle cx="869.3" cy="226.7" r="2.75"/><circle cx="916.2" cy="83.0" r="2.75"/><circle cx="883.8" cy="174.0" r="2.75"/><circle cx="958.1" cy="243.6" r="2.75"/><circle cx="870.6" cy="220.8" r="2.75"/><circle cx="965.1" cy="256.0" r="2.75"/><circle cx="894.2" cy="128.6" r="2.75"/><circle cx="857.3" cy="253.9" r="2.75"/><circle cx="839.3" cy="298.2" r="2.75"/><circle cx="941.4" cy="175.7" r="2.75"/><circle cx="874.7" cy="202.5" r="2.75"/><circle cx="964.6" cy="255.1" r="2.75"/><circle cx="922.7" cy="113.3" r="2.75"/><circle cx="974.1" cy="277.7" r="2.75"/><circle cx="1022.0" cy="333.0" r="2.75"/><circle cx="947.8" cy="201.4" r="2.75"/><circle cx="944.8" cy="195.2" r="2.75"/><circle cx="893.2" cy="135.2" r="2.75"/><circle cx="941.5" cy="178.5" r="2.75"/><circle cx="913.4" cy="70.5" r="2.75"/><circle cx="989.5" cy="297.8" r="2.75"/><circle cx="834.5" cy="303.4" r="2.75"/><circle cx="838.1" cy="298.0" r="2.75"/><circle cx="851.1" cy="268.2" r="2.75"/><circle cx="770.0" cy="341.0" r="2.75"/><circle cx="895.1" cy="123.6" r="2.75"/><circle cx="988.6" cy="305.0" r="2.75"/><circle cx="922.6" cy="113.2" r="2.75"/><circle cx="977.2" cy="281.4" r="2.75"/><circle cx="957.2" cy="237.3" r="2.75"/><circle cx="974.4" cy="275.9" r="2.75"/><circle cx="896.8" cy="116.9" r="2.75"/><circle cx="943.2" cy="185.6" r="2.75"/><circle cx="845.0" cy="284.3" r="2.75"/><circle cx="965.7" cy="255.1" r="2.75"/><circle cx="830.1" cy="298.3" r="2.75"/><circle cx="956.2" cy="230.9" r="2.75"/><circle cx="985.8" cy="294.9" r="2.75"/><circle cx="888.0" cy="154.9" r="2.75"/><circle cx="992.7" cy="304.8" r="2.75"/><circle cx="952.1" cy="212.7" r="2.75"/><circle cx="873.0" cy="213.5" r="2.75"/><circle cx="858.5" cy="255.0" r="2.75"/><circle cx="877.0" cy="197.6" r="2.75"/><circle cx="919.8" cy="98.9" r="2.75"/><circle cx="879.0" cy="183.8" r="2.75"/><circle cx="951.0" cy="212.1" r="2.75"/><circle cx="983.1" cy="295.7" r="2.75"/><circle cx="967.3" cy="260.1" r="2.75"/><circle cx="950.3" cy="216.8" r="2.75"/><circle cx="915.2" cy="78.8" r="2.75"/><circle cx="934.5" cy="154.3" r="2.75"/><circle cx="810.1" cy="330.5" r="2.75"/><circle cx="1046.0" cy="340.4" r="2.75"/><circle cx="967.6" cy="263.1" r="2.75"/><circle cx="972.3" cy="272.6" r="2.75"/><circle cx="908.6" cy="71.8" r="2.75"/><circle cx="928.1" cy="132.5" r="2.75"/><circle cx="868.0" cy="227.3" r="2.75"/><circle cx="883.2" cy="178.9" r="2.75"/><circle cx="891.7" cy="138.3" r="2.75"/><circle cx="885.9" cy="163.6" r="2.75"/><circle cx="815.8" cy="321.1" r="2.75"/><circle cx="915.5" cy="80.4" r="2.75"/><circle cx="914.4" cy="74.4" r="2.75"/><circle cx="803.5" cy="332.9" r="2.75"/><circle cx="951.4" cy="213.4" r="2.75"/><circle cx="889.2" cy="151.8" r="2.75"/><circle cx="849.4" cy="276.6" r="2.75"/><circle cx="851.9" cy="270.7" r="2.75"/><circle cx="940.2" cy="171.0" r="2.75"/><circle cx="913.5" cy="70.7" r="2.75"/><circle cx="928.6" cy="133.4" r="2.75"/><circle cx="801.8" cy="328.8" r="2.75"/><circle cx="903.1" cy="93.2" r="2.75"/><circle cx="937.8" cy="166.8" r="2.75"/><circle cx="884.3" cy="167.5" r="2.75"/><circle cx="931.6" cy="143.6" r="2.75"/><circle cx="980.2" cy="289.4" r="2.75"/><circle cx="900.8" cy="102.0" r="2.75"/><circle cx="980.9" cy="292.1" r="2.75"/><circle cx="849.9" cy="277.0" r="2.75"/><circle cx="929.2" cy="131.2" r="2.75"/><circle cx="881.7" cy="177.7" r="2.75"/><circle cx="853.0" cy="263.9" r="2.75"/><circle cx="881.8" cy="180.1" r="2.75"/><circle cx="872.4" cy="217.0" r="2.75"/><circle cx="1009.7" cy="324.2" r="2.75"/><circle cx="1005.1" cy="320.8" r="2.75"/><circle cx="936.3" cy="157.6" r="2.75"/><circle cx="848.5" cy="282.4" r="2.75"/><circle cx="995.6" cy="316.1" r="2.75"/><circle cx="949.4" cy="205.8" r="2.75"/><circle cx="868.4" cy="228.8" r="2.75"/><circle cx="880.7" cy="186.1" r="2.75"/><circle cx="939.1" cy="173.8" r="2.75"/><circle cx="902.4" cy="96.5" r="2.75"/></g>
<path d="M669.2 51.2 V352.9 H1153.8 V51.2" fill="none" stroke="#454545" stroke-width="1.4" stroke-linejoin="round"/>
<text x="678.7" y="377.5" font-size="14" text-anchor="middle">-.3</text>
<text x="756.3" y="377.5" font-size="14" text-anchor="middle">-.2</text>
<text x="834.0" y="377.5" font-size="14" text-anchor="middle">-.1</text>
<text x="911.6" y="377.5" font-size="14" text-anchor="middle">0</text>
<text x="989.2" y="377.5" font-size="14" text-anchor="middle">.1</text>
<text x="1066.9" y="377.5" font-size="14" text-anchor="middle">.2</text>
<text x="1144.5" y="377.5" font-size="14" text-anchor="middle">.3</text>
<text transform="translate(656.1 343.4) rotate(-90)" font-size="14" text-anchor="middle">0</text>
<text transform="translate(656.1 298.3) rotate(-90)" font-size="14" text-anchor="middle">1</text>
<text transform="translate(656.1 253.3) rotate(-90)" font-size="14" text-anchor="middle">2</text>
<text transform="translate(656.1 208.2) rotate(-90)" font-size="14" text-anchor="middle">3</text>
<text transform="translate(656.1 163.2) rotate(-90)" font-size="14" text-anchor="middle">4</text>
<text transform="translate(656.1 118.1) rotate(-90)" font-size="14" text-anchor="middle">5</text>
<text transform="translate(656.1 73.1) rotate(-90)" font-size="14" text-anchor="middle">6</text>
<text transform="translate(1178 343.3) rotate(-90)" font-size="14" text-anchor="middle">0</text>
<text transform="translate(1178 286.7) rotate(-90)" font-size="14" text-anchor="middle">.2</text>
<text transform="translate(1178 230.1) rotate(-90)" font-size="14" text-anchor="middle">.4</text>
<text transform="translate(1178 173.6) rotate(-90)" font-size="14" text-anchor="middle">.6</text>
<text transform="translate(1178 117.0) rotate(-90)" font-size="14" text-anchor="middle">.8</text>
<text transform="translate(1178 60.4) rotate(-90)" font-size="14" text-anchor="middle">1</text>
<path d="M678.7 352.9 v6 M756.3 352.9 v6 M834.0 352.9 v6 M911.6 352.9 v6 M989.2 352.9 v6 M1066.9 352.9 v6 M1144.5 352.9 v6 M669.2 343.4 h-6 M669.2 298.3 h-6 M669.2 253.3 h-6 M669.2 208.2 h-6 M669.2 163.2 h-6 M669.2 118.1 h-6 M669.2 73.1 h-6 M1153.8 343.3 h6 M1153.8 286.7 h6 M1153.8 230.1 h6 M1153.8 173.6 h6 M1153.8 117.0 h6 M1153.8 60.4 h6" stroke="#454545" stroke-width="1.3"/>
<text x="911.5" y="391.2" font-size="14" text-anchor="middle" textLength="74.3" lengthAdjust="spacingAndGlyphs">Coefficients</text>
<text transform="translate(639 202.0) rotate(-90)" font-size="15" text-anchor="middle" textLength="132.4" lengthAdjust="spacingAndGlyphs">kdensity of estimates</text>
<text transform="translate(1191.4 202.0) rotate(-90)" font-size="15" text-anchor="middle" textLength="42" lengthAdjust="spacingAndGlyphs">pvalue</text>
<rect x="759.3" y="403.5" width="304.2" height="27.7" fill="none" stroke="#454545" stroke-width="1.3" stroke-linejoin="round" rx="0.6"/>
<line x1="765.7" y1="417.4" x2="823" y2="417.4" stroke="#dc5868" stroke-width="1.2"/>
<text x="832.5" y="422.0" font-size="14" textLength="133.9" lengthAdjust="spacingAndGlyphs">kdensity of estimates</text>
<circle cx="997.2" cy="417.4" r="2.5" fill="none" stroke="#4a8fc5" stroke-width="1.25"/>
<text x="1009.9" y="422.0" font-size="14">p value</text>
<text x="2" y="485.9" font-size="23.5" stroke="#111" stroke-width="0.45" textLength="27" lengthAdjust="spacingAndGlyphs">(c)</text>
<text x="298" y="502.4" font-size="18" text-anchor="middle" textLength="74.9" lengthAdjust="spacingAndGlyphs">U: Paper</text>
<line x1="55.9" y1="801" x2="540.2" y2="801" stroke="#a8a8a8" stroke-width="1.3" stroke-dasharray="8.8 4.53"/>
<line x1="440.2" y1="511.2" x2="440.2" y2="812.3" stroke="#a8a8a8" stroke-width="1.3" stroke-dasharray="8.8 4.53"/>
<path d="M90.7 799.7 C92.6 799.7 97.4 799.4 102.0 799.7 C106.6 800.0 113.5 801.4 118.3 801.7 C123.0 802.0 126.8 802.5 130.5 801.7 C134.2 800.9 137.3 798.6 140.7 797.0 C144.1 795.4 147.6 793.7 151.0 791.9 C154.4 790.1 157.8 788.1 161.2 786.4 C164.6 784.7 168.0 783.9 171.4 781.7 C174.8 779.6 178.4 776.2 181.6 773.5 C184.8 770.8 188.1 769.0 190.8 765.4 C193.5 761.8 195.4 757.4 197.9 752.1 C200.4 746.8 203.4 739.8 206.1 733.7 C208.8 727.6 211.1 722.4 214.2 715.3 C217.3 708.1 221.4 697.3 224.5 690.8 C227.6 684.3 230.4 681.6 232.6 676.5 C234.8 671.4 236.1 664.4 237.5 660.0 C238.9 655.6 239.4 653.8 241.0 650.0 C242.6 646.2 244.8 642.8 247.2 637.3 C249.6 631.8 253.1 624.5 255.6 617.2 C258.1 610.0 260.1 601.6 262.3 593.8 C264.5 586.0 266.8 577.8 269.0 570.3 C271.2 562.8 273.5 554.4 275.7 548.5 C277.9 542.6 280.2 538.6 282.4 535.1 C284.6 531.6 286.9 529.1 289.1 527.6 C291.3 526.1 294.0 525.9 295.8 525.9 C297.6 525.9 298.6 526.5 300.0 527.5 C301.4 528.5 302.2 528.6 304.2 531.8 C306.2 535.0 309.1 541.6 311.8 546.9 C314.5 552.2 317.3 557.8 320.1 563.6 C322.9 569.5 326.0 575.9 328.5 582.0 C331.0 588.1 333.0 594.1 335.2 600.5 C337.4 606.9 339.9 614.5 341.9 620.6 C343.8 626.7 345.1 630.7 346.9 637.3 C348.7 643.9 351.2 654.5 352.8 660.0 C354.4 665.5 354.4 664.6 356.3 670.4 C358.2 676.2 361.7 687.1 364.4 694.9 C367.1 702.7 369.9 710.6 372.6 717.4 C375.3 724.2 377.6 730.6 380.7 735.7 C383.8 740.8 387.9 744.6 391.0 748.0 C394.1 751.4 396.4 754.0 399.1 756.2 C401.8 758.4 404.2 758.9 407.3 761.3 C410.4 763.7 414.1 767.5 417.5 770.5 C420.9 773.5 424.3 777.0 427.7 779.6 C431.1 782.2 434.1 784.6 437.9 786.4 C441.6 788.2 446.4 789.2 450.2 790.5 C453.9 791.8 457.0 793.0 460.4 793.9 C463.8 794.8 468.9 795.6 470.6 796.0" fill="none" stroke="#dc5868" stroke-width="1.2" stroke-linejoin="round"/>
<g fill="none" stroke="#4a8fc5" stroke-width="1.35"><circle cx="323.7" cy="624.0" r="2.75"/><circle cx="345.6" cy="689.8" r="2.75"/><circle cx="274.1" cy="608.5" r="2.75"/><circle cx="237.2" cy="723.3" r="2.75"/><circle cx="415.8" cy="794.4" r="2.75"/><circle cx="289.0" cy="559.6" r="2.75"/><circle cx="321.4" cy="614.4" r="2.75"/><circle cx="313.4" cy="582.2" r="2.75"/><circle cx="307.4" cy="558.6" r="2.75"/><circle cx="394.4" cy="773.9" r="2.75"/><circle cx="349.6" cy="697.3" r="2.75"/><circle cx="244.9" cy="699.7" r="2.75"/><circle cx="247.3" cy="695.5" r="2.75"/><circle cx="283.5" cy="578.7" r="2.75"/><circle cx="283.0" cy="577.2" r="2.75"/><circle cx="350.9" cy="698.9" r="2.75"/><circle cx="385.7" cy="770.7" r="2.75"/><circle cx="292.2" cy="548.6" r="2.75"/><circle cx="261.5" cy="654.4" r="2.75"/><circle cx="402.6" cy="784.6" r="2.75"/><circle cx="259.1" cy="655.0" r="2.75"/><circle cx="254.9" cy="670.8" r="2.75"/><circle cx="281.5" cy="588.5" r="2.75"/><circle cx="328.9" cy="634.6" r="2.75"/><circle cx="384.9" cy="771.8" r="2.75"/><circle cx="236.3" cy="713.5" r="2.75"/><circle cx="294.5" cy="542.9" r="2.75"/><circle cx="332.3" cy="652.8" r="2.75"/><circle cx="344.8" cy="684.0" r="2.75"/><circle cx="359.2" cy="718.0" r="2.75"/><circle cx="312.7" cy="580.4" r="2.75"/><circle cx="335.9" cy="662.1" r="2.75"/><circle cx="161.2" cy="799.0" r="2.75"/><circle cx="212.0" cy="769.1" r="2.75"/><circle cx="441.0" cy="800.1" r="2.75"/><circle cx="290.4" cy="555.8" r="2.75"/><circle cx="251.1" cy="695.1" r="2.75"/><circle cx="271.9" cy="615.7" r="2.75"/><circle cx="300.1" cy="529.8" r="2.75"/><circle cx="307.8" cy="562.0" r="2.75"/><circle cx="303.8" cy="543.0" r="2.75"/><circle cx="337.6" cy="668.6" r="2.75"/><circle cx="242.7" cy="707.2" r="2.75"/><circle cx="275.3" cy="605.7" r="2.75"/><circle cx="285.2" cy="573.7" r="2.75"/><circle cx="272.5" cy="622.7" r="2.75"/><circle cx="353.6" cy="705.3" r="2.75"/><circle cx="323.6" cy="630.3" r="2.75"/><circle cx="230.9" cy="731.9" r="2.75"/><circle cx="348.8" cy="696.1" r="2.75"/><circle cx="270.0" cy="623.0" r="2.75"/><circle cx="226.5" cy="749.6" r="2.75"/><circle cx="348.2" cy="696.5" r="2.75"/><circle cx="391.1" cy="770.7" r="2.75"/><circle cx="339.4" cy="671.0" r="2.75"/><circle cx="361.2" cy="723.7" r="2.75"/><circle cx="345.1" cy="687.2" r="2.75"/><circle cx="318.9" cy="608.8" r="2.75"/><circle cx="361.6" cy="733.9" r="2.75"/><circle cx="370.4" cy="744.9" r="2.75"/><circle cx="299.1" cy="525.3" r="2.75"/><circle cx="370.2" cy="742.9" r="2.75"/><circle cx="313.0" cy="580.2" r="2.75"/><circle cx="330.8" cy="659.2" r="2.75"/><circle cx="326.9" cy="638.0" r="2.75"/><circle cx="325.4" cy="630.1" r="2.75"/><circle cx="290.0" cy="556.6" r="2.75"/><circle cx="227.5" cy="740.6" r="2.75"/><circle cx="180.2" cy="792.9" r="2.75"/><circle cx="327.2" cy="632.6" r="2.75"/><circle cx="248.1" cy="687.1" r="2.75"/><circle cx="338.1" cy="672.1" r="2.75"/><circle cx="311.0" cy="573.8" r="2.75"/><circle cx="296.1" cy="533.4" r="2.75"/><circle cx="196.4" cy="787.3" r="2.75"/><circle cx="276.7" cy="600.1" r="2.75"/><circle cx="249.5" cy="691.0" r="2.75"/><circle cx="322.7" cy="619.0" r="2.75"/><circle cx="367.8" cy="734.5" r="2.75"/><circle cx="309.1" cy="561.9" r="2.75"/><circle cx="294.1" cy="544.0" r="2.75"/><circle cx="183.9" cy="786.1" r="2.75"/><circle cx="259.6" cy="654.6" r="2.75"/><circle cx="191.7" cy="784.6" r="2.75"/><circle cx="251.3" cy="680.0" r="2.75"/><circle cx="305.5" cy="552.7" r="2.75"/><circle cx="286.6" cy="568.8" r="2.75"/><circle cx="316.9" cy="599.2" r="2.75"/><circle cx="312.2" cy="578.9" r="2.75"/><circle cx="330.4" cy="643.3" r="2.75"/><circle cx="205.4" cy="775.8" r="2.75"/><circle cx="380.9" cy="764.7" r="2.75"/><circle cx="275.6" cy="603.9" r="2.75"/><circle cx="397.2" cy="777.5" r="2.75"/><circle cx="199.3" cy="776.5" r="2.75"/><circle cx="327.6" cy="629.0" r="2.75"/><circle cx="292.0" cy="551.0" r="2.75"/><circle cx="265.3" cy="634.7" r="2.75"/><circle cx="246.2" cy="709.2" r="2.75"/><circle cx="316.7" cy="595.8" r="2.75"/><circle cx="289.8" cy="558.3" r="2.75"/><circle cx="89.7" cy="803.1" r="2.75"/><circle cx="281.0" cy="589.8" r="2.75"/><circle cx="428.7" cy="798.0" r="2.75"/><circle cx="282.2" cy="587.2" r="2.75"/><circle cx="278.1" cy="605.3" r="2.75"/><circle cx="201.8" cy="775.0" r="2.75"/><circle cx="321.8" cy="617.9" r="2.75"/><circle cx="266.5" cy="641.8" r="2.75"/><circle cx="411.9" cy="790.9" r="2.75"/><circle cx="253.5" cy="676.8" r="2.75"/><circle cx="274.6" cy="608.8" r="2.75"/><circle cx="322.3" cy="613.5" r="2.75"/><circle cx="290.8" cy="553.6" r="2.75"/><circle cx="219.5" cy="750.4" r="2.75"/><circle cx="310.0" cy="568.4" r="2.75"/><circle cx="282.6" cy="585.8" r="2.75"/><circle cx="378.7" cy="766.1" r="2.75"/><circle cx="242.3" cy="706.0" r="2.75"/><circle cx="286.0" cy="569.6" r="2.75"/><circle cx="287.9" cy="563.5" r="2.75"/><circle cx="302.3" cy="538.4" r="2.75"/><circle cx="334.1" cy="665.4" r="2.75"/><circle cx="300.9" cy="531.8" r="2.75"/><circle cx="258.5" cy="671.8" r="2.75"/><circle cx="331.6" cy="648.4" r="2.75"/><circle cx="277.6" cy="598.0" r="2.75"/><circle cx="264.2" cy="648.2" r="2.75"/><circle cx="293.3" cy="547.4" r="2.75"/><circle cx="294.8" cy="539.2" r="2.75"/><circle cx="316.0" cy="592.8" r="2.75"/><circle cx="252.6" cy="683.4" r="2.75"/><circle cx="296.7" cy="530.1" r="2.75"/><circle cx="264.8" cy="649.5" r="2.75"/><circle cx="313.8" cy="578.4" r="2.75"/><circle cx="310.4" cy="567.9" r="2.75"/><circle cx="365.3" cy="741.2" r="2.75"/><circle cx="325.0" cy="630.1" r="2.75"/><circle cx="306.4" cy="554.8" r="2.75"/><circle cx="298.7" cy="524.5" r="2.75"/><circle cx="308.1" cy="562.2" r="2.75"/><circle cx="255.4" cy="670.5" r="2.75"/><circle cx="319.3" cy="601.8" r="2.75"/><circle cx="364.4" cy="735.1" r="2.75"/><circle cx="208.9" cy="769.7" r="2.75"/><circle cx="356.3" cy="718.0" r="2.75"/><circle cx="344.4" cy="689.0" r="2.75"/><circle cx="233.9" cy="733.5" r="2.75"/><circle cx="377.6" cy="753.7" r="2.75"/><circle cx="214.7" cy="760.2" r="2.75"/><circle cx="298.5" cy="524.4" r="2.75"/><circle cx="301.4" cy="534.3" r="2.75"/><circle cx="267.6" cy="633.2" r="2.75"/><circle cx="287.5" cy="566.9" r="2.75"/><circle cx="284.3" cy="577.1" r="2.75"/><circle cx="364.2" cy="735.2" r="2.75"/><circle cx="271.1" cy="620.9" r="2.75"/><circle cx="281.9" cy="583.5" r="2.75"/><circle cx="293.5" cy="545.8" r="2.75"/><circle cx="400.9" cy="780.4" r="2.75"/><circle cx="263.5" cy="652.0" r="2.75"/><circle cx="256.6" cy="664.9" r="2.75"/><circle cx="468.5" cy="802.7" r="2.75"/><circle cx="224.4" cy="736.8" r="2.75"/><circle cx="350.3" cy="707.1" r="2.75"/><circle cx="246.8" cy="701.1" r="2.75"/><circle cx="286.9" cy="569.2" r="2.75"/><circle cx="221.2" cy="748.2" r="2.75"/><circle cx="235.0" cy="722.9" r="2.75"/><circle cx="326.2" cy="626.5" r="2.75"/><circle cx="250.7" cy="670.7" r="2.75"/><circle cx="291.3" cy="554.7" r="2.75"/><circle cx="317.9" cy="596.5" r="2.75"/><circle cx="225.2" cy="741.2" r="2.75"/><circle cx="297.7" cy="525.7" r="2.75"/><circle cx="202.8" cy="776.6" r="2.75"/><circle cx="320.1" cy="611.9" r="2.75"/><circle cx="304.6" cy="547.3" r="2.75"/><circle cx="308.8" cy="562.0" r="2.75"/><circle cx="309.7" cy="565.0" r="2.75"/><circle cx="314.1" cy="578.6" r="2.75"/><circle cx="339.1" cy="680.8" r="2.75"/><circle cx="374.8" cy="752.4" r="2.75"/><circle cx="371.4" cy="734.5" r="2.75"/><circle cx="431.8" cy="796.6" r="2.75"/><circle cx="331.2" cy="653.9" r="2.75"/><circle cx="230.1" cy="732.5" r="2.75"/><circle cx="235.5" cy="727.7" r="2.75"/><circle cx="279.3" cy="593.6" r="2.75"/><circle cx="262.5" cy="656.1" r="2.75"/><circle cx="167.3" cy="796.0" r="2.75"/><circle cx="360.2" cy="716.8" r="2.75"/><circle cx="343.3" cy="682.2" r="2.75"/><circle cx="272.3" cy="620.5" r="2.75"/><circle cx="278.5" cy="592.0" r="2.75"/><circle cx="166.9" cy="799.0" r="2.75"/><circle cx="357.9" cy="719.5" r="2.75"/><circle cx="228.4" cy="737.1" r="2.75"/><circle cx="268.2" cy="629.8" r="2.75"/><circle cx="367.1" cy="734.5" r="2.75"/><circle cx="285.6" cy="573.0" r="2.75"/><circle cx="336.4" cy="673.5" r="2.75"/><circle cx="356.7" cy="715.2" r="2.75"/><circle cx="262.7" cy="642.9" r="2.75"/><circle cx="229.7" cy="734.3" r="2.75"/><circle cx="248.3" cy="690.0" r="2.75"/><circle cx="159.5" cy="800.7" r="2.75"/><circle cx="265.6" cy="638.9" r="2.75"/><circle cx="234.1" cy="725.5" r="2.75"/><circle cx="355.7" cy="713.2" r="2.75"/><circle cx="288.2" cy="563.7" r="2.75"/><circle cx="279.8" cy="595.6" r="2.75"/><circle cx="342.6" cy="678.2" r="2.75"/><circle cx="279.3" cy="590.7" r="2.75"/><circle cx="405.7" cy="785.0" r="2.75"/><circle cx="351.9" cy="705.4" r="2.75"/><circle cx="389.3" cy="769.6" r="2.75"/><circle cx="245.1" cy="705.0" r="2.75"/><circle cx="315.5" cy="587.8" r="2.75"/><circle cx="250.2" cy="688.7" r="2.75"/><circle cx="269.3" cy="625.6" r="2.75"/><circle cx="244.0" cy="704.1" r="2.75"/><circle cx="326.6" cy="631.7" r="2.75"/><circle cx="222.0" cy="756.5" r="2.75"/><circle cx="347.3" cy="688.0" r="2.75"/><circle cx="299.5" cy="526.7" r="2.75"/><circle cx="147.3" cy="800.1" r="2.75"/><circle cx="270.5" cy="621.2" r="2.75"/><circle cx="186.8" cy="793.2" r="2.75"/><circle cx="339.8" cy="670.3" r="2.75"/><circle cx="264.0" cy="651.6" r="2.75"/><circle cx="297.4" cy="526.1" r="2.75"/><circle cx="350.2" cy="700.0" r="2.75"/><circle cx="302.5" cy="539.0" r="2.75"/><circle cx="303.6" cy="541.3" r="2.75"/><circle cx="346.6" cy="700.5" r="2.75"/><circle cx="406.3" cy="785.0" r="2.75"/><circle cx="293.6" cy="546.0" r="2.75"/><circle cx="322.0" cy="613.3" r="2.75"/><circle cx="328.3" cy="640.4" r="2.75"/><circle cx="375.7" cy="752.5" r="2.75"/><circle cx="340.9" cy="676.8" r="2.75"/><circle cx="300.4" cy="529.8" r="2.75"/><circle cx="301.9" cy="536.0" r="2.75"/><circle cx="413.5" cy="793.6" r="2.75"/><circle cx="430.8" cy="800.0" r="2.75"/><circle cx="288.6" cy="561.9" r="2.75"/><circle cx="305.9" cy="554.2" r="2.75"/><circle cx="341.6" cy="684.5" r="2.75"/><circle cx="471.0" cy="802.7" r="2.75"/><circle cx="379.8" cy="766.2" r="2.75"/><circle cx="352.3" cy="712.0" r="2.75"/><circle cx="374.2" cy="749.9" r="2.75"/><circle cx="212.3" cy="766.9" r="2.75"/><circle cx="282.1" cy="583.9" r="2.75"/><circle cx="354.3" cy="713.0" r="2.75"/><circle cx="209.7" cy="764.3" r="2.75"/><circle cx="259.3" cy="660.8" r="2.75"/><circle cx="333.9" cy="659.5" r="2.75"/><circle cx="268.0" cy="627.9" r="2.75"/><circle cx="260.5" cy="657.4" r="2.75"/><circle cx="226.0" cy="735.7" r="2.75"/><circle cx="382.2" cy="765.5" r="2.75"/><circle cx="232.4" cy="732.1" r="2.75"/><circle cx="316.3" cy="591.2" r="2.75"/><circle cx="288.6" cy="562.7" r="2.75"/><circle cx="311.6" cy="570.9" r="2.75"/><circle cx="260.3" cy="658.9" r="2.75"/><circle cx="306.8" cy="555.3" r="2.75"/><circle cx="309.5" cy="568.4" r="2.75"/><circle cx="398.8" cy="780.4" r="2.75"/><circle cx="297.0" cy="529.3" r="2.75"/><circle cx="338.3" cy="668.3" r="2.75"/><circle cx="238.8" cy="714.8" r="2.75"/><circle cx="189.1" cy="790.0" r="2.75"/><circle cx="362.9" cy="718.9" r="2.75"/><circle cx="274.3" cy="616.9" r="2.75"/><circle cx="222.5" cy="749.8" r="2.75"/><circle cx="287.1" cy="564.1" r="2.75"/><circle cx="318.4" cy="603.5" r="2.75"/><circle cx="276.4" cy="603.0" r="2.75"/><circle cx="354.5" cy="711.1" r="2.75"/><circle cx="319.2" cy="602.1" r="2.75"/><circle cx="197.0" cy="785.1" r="2.75"/><circle cx="305.0" cy="548.9" r="2.75"/><circle cx="215.4" cy="759.5" r="2.75"/><circle cx="323.2" cy="619.9" r="2.75"/><circle cx="352.9" cy="703.7" r="2.75"/><circle cx="332.3" cy="647.2" r="2.75"/><circle cx="257.4" cy="666.4" r="2.75"/><circle cx="336.9" cy="668.9" r="2.75"/><circle cx="324.1" cy="620.2" r="2.75"/><circle cx="231.3" cy="731.2" r="2.75"/><circle cx="271.5" cy="620.2" r="2.75"/><circle cx="308.4" cy="560.4" r="2.75"/><circle cx="277.1" cy="604.8" r="2.75"/><circle cx="384.1" cy="773.1" r="2.75"/><circle cx="272.9" cy="612.3" r="2.75"/><circle cx="207.1" cy="768.4" r="2.75"/><circle cx="216.8" cy="764.7" r="2.75"/><circle cx="239.2" cy="709.0" r="2.75"/><circle cx="334.7" cy="669.9" r="2.75"/><circle cx="200.9" cy="779.9" r="2.75"/><circle cx="314.7" cy="586.4" r="2.75"/><circle cx="346.0" cy="687.0" r="2.75"/><circle cx="387.1" cy="771.1" r="2.75"/><circle cx="284.6" cy="575.3" r="2.75"/><circle cx="218.0" cy="765.0" r="2.75"/><circle cx="424.0" cy="794.1" r="2.75"/><circle cx="268.6" cy="634.5" r="2.75"/><circle cx="320.4" cy="608.9" r="2.75"/><circle cx="223.7" cy="742.8" r="2.75"/><circle cx="286.2" cy="567.1" r="2.75"/><circle cx="340.2" cy="679.0" r="2.75"/><circle cx="300.8" cy="532.4" r="2.75"/><circle cx="253.8" cy="672.1" r="2.75"/><circle cx="210.7" cy="763.7" r="2.75"/><circle cx="179.1" cy="789.3" r="2.75"/><circle cx="266.0" cy="634.2" r="2.75"/><circle cx="420.2" cy="794.4" r="2.75"/><circle cx="314.6" cy="582.9" r="2.75"/><circle cx="347.9" cy="706.9" r="2.75"/><circle cx="307.2" cy="558.0" r="2.75"/><circle cx="270.9" cy="621.8" r="2.75"/><circle cx="268.9" cy="636.7" r="2.75"/><circle cx="261.9" cy="649.1" r="2.75"/><circle cx="368.6" cy="746.4" r="2.75"/><circle cx="303.1" cy="540.5" r="2.75"/><circle cx="292.6" cy="548.3" r="2.75"/><circle cx="280.8" cy="589.3" r="2.75"/><circle cx="258.0" cy="664.3" r="2.75"/><circle cx="366.6" cy="729.8" r="2.75"/><circle cx="373.3" cy="759.3" r="2.75"/><circle cx="357.4" cy="719.3" r="2.75"/><circle cx="244.4" cy="693.7" r="2.75"/><circle cx="220.0" cy="760.0" r="2.75"/><circle cx="254.4" cy="669.3" r="2.75"/><circle cx="241.3" cy="713.3" r="2.75"/><circle cx="299.6" cy="527.0" r="2.75"/><circle cx="305.0" cy="546.9" r="2.75"/><circle cx="261.2" cy="652.2" r="2.75"/><circle cx="241.1" cy="719.2" r="2.75"/><circle cx="325.8" cy="641.0" r="2.75"/><circle cx="238.2" cy="718.1" r="2.75"/><circle cx="335.4" cy="668.2" r="2.75"/><circle cx="315.3" cy="589.6" r="2.75"/><circle cx="252.0" cy="673.7" r="2.75"/><circle cx="291.0" cy="556.7" r="2.75"/><circle cx="101.5" cy="803.1" r="2.75"/><circle cx="291.6" cy="551.4" r="2.75"/><circle cx="257.2" cy="662.7" r="2.75"/><circle cx="297.4" cy="526.8" r="2.75"/><circle cx="303.0" cy="540.2" r="2.75"/><circle cx="317.7" cy="598.3" r="2.75"/><circle cx="328.3" cy="640.2" r="2.75"/><circle cx="218.2" cy="754.8" r="2.75"/><circle cx="358.8" cy="726.7" r="2.75"/><circle cx="295.6" cy="537.8" r="2.75"/><circle cx="292.9" cy="548.3" r="2.75"/><circle cx="460.4" cy="801.5" r="2.75"/><circle cx="214.0" cy="749.7" r="2.75"/><circle cx="296.2" cy="532.7" r="2.75"/><circle cx="278.9" cy="594.0" r="2.75"/><circle cx="240.0" cy="714.4" r="2.75"/><circle cx="334.8" cy="655.1" r="2.75"/><circle cx="304.2" cy="544.2" r="2.75"/><circle cx="158.1" cy="801.5" r="2.75"/><circle cx="329.4" cy="641.9" r="2.75"/><circle cx="273.6" cy="611.7" r="2.75"/><circle cx="341.1" cy="678.6" r="2.75"/><circle cx="269.8" cy="622.2" r="2.75"/><circle cx="240.2" cy="711.7" r="2.75"/><circle cx="205.8" cy="775.6" r="2.75"/><circle cx="301.6" cy="534.9" r="2.75"/><circle cx="276.0" cy="600.7" r="2.75"/><circle cx="289.5" cy="561.1" r="2.75"/><circle cx="298.3" cy="522.7" r="2.75"/><circle cx="423.0" cy="794.2" r="2.75"/><circle cx="310.9" cy="573.3" r="2.75"/><circle cx="245.8" cy="688.4" r="2.75"/><circle cx="343.7" cy="687.9" r="2.75"/><circle cx="277.6" cy="603.9" r="2.75"/><circle cx="342.1" cy="676.0" r="2.75"/><circle cx="284.0" cy="577.7" r="2.75"/><circle cx="232.8" cy="730.0" r="2.75"/><circle cx="392.5" cy="777.9" r="2.75"/><circle cx="333.1" cy="656.5" r="2.75"/><circle cx="171.4" cy="795.6" r="2.75"/><circle cx="263.1" cy="641.9" r="2.75"/><circle cx="266.9" cy="638.3" r="2.75"/><circle cx="443.0" cy="802.1" r="2.75"/><circle cx="285.0" cy="573.9" r="2.75"/><circle cx="255.8" cy="670.7" r="2.75"/><circle cx="252.7" cy="684.7" r="2.75"/><circle cx="283.6" cy="579.4" r="2.75"/><circle cx="273.3" cy="616.1" r="2.75"/><circle cx="324.7" cy="621.5" r="2.75"/><circle cx="267.2" cy="633.0" r="2.75"/><circle cx="280.2" cy="594.3" r="2.75"/><circle cx="280.3" cy="591.3" r="2.75"/><circle cx="243.2" cy="710.0" r="2.75"/><circle cx="408.5" cy="790.1" r="2.75"/><circle cx="295.1" cy="538.1" r="2.75"/><circle cx="295.3" cy="536.5" r="2.75"/><circle cx="256.3" cy="671.8" r="2.75"/><circle cx="317.3" cy="592.4" r="2.75"/><circle cx="425.7" cy="795.6" r="2.75"/><circle cx="236.6" cy="719.0" r="2.75"/><circle cx="337.0" cy="668.3" r="2.75"/><circle cx="329.9" cy="641.6" r="2.75"/><circle cx="312.6" cy="576.9" r="2.75"/><circle cx="333.1" cy="652.8" r="2.75"/><circle cx="319.9" cy="607.6" r="2.75"/><circle cx="228.3" cy="738.1" r="2.75"/><circle cx="194.1" cy="786.8" r="2.75"/><circle cx="306.0" cy="552.4" r="2.75"/><circle cx="329.5" cy="648.4" r="2.75"/><circle cx="395.3" cy="774.9" r="2.75"/><circle cx="248.9" cy="686.5" r="2.75"/><circle cx="362.6" cy="726.6" r="2.75"/><circle cx="311.3" cy="574.3" r="2.75"/><circle cx="320.8" cy="616.3" r="2.75"/><circle cx="275.2" cy="602.0" r="2.75"/></g>
<path d="M55.3 511.2 V813 H540.8 V511.2" fill="none" stroke="#454545" stroke-width="1.4" stroke-linejoin="round"/>
<text x="65.0" y="837.6" font-size="14" text-anchor="middle">-.3</text>
<text x="142.7" y="837.6" font-size="14" text-anchor="middle">-.2</text>
<text x="220.3" y="837.6" font-size="14" text-anchor="middle">-.1</text>
<text x="298.0" y="837.6" font-size="14" text-anchor="middle">0</text>
<text x="375.7" y="837.6" font-size="14" text-anchor="middle">.1</text>
<text x="453.3" y="837.6" font-size="14" text-anchor="middle">.2</text>
<text x="531.0" y="837.6" font-size="14" text-anchor="middle">.3</text>
<text transform="translate(42.2 803.2) rotate(-90)" font-size="14" text-anchor="middle">0</text>
<text transform="translate(42.2 746.8) rotate(-90)" font-size="14" text-anchor="middle">1</text>
<text transform="translate(42.2 690.3) rotate(-90)" font-size="14" text-anchor="middle">2</text>
<text transform="translate(42.2 633.9) rotate(-90)" font-size="14" text-anchor="middle">3</text>
<text transform="translate(42.2 577.4) rotate(-90)" font-size="14" text-anchor="middle">4</text>
<text transform="translate(42.2 521.0) rotate(-90)" font-size="14" text-anchor="middle">5</text>
<text transform="translate(565 803.3) rotate(-90)" font-size="14" text-anchor="middle">0</text>
<text transform="translate(565 746.8) rotate(-90)" font-size="14" text-anchor="middle">.2</text>
<text transform="translate(565 690.2) rotate(-90)" font-size="14" text-anchor="middle">.4</text>
<text transform="translate(565 633.7) rotate(-90)" font-size="14" text-anchor="middle">.6</text>
<text transform="translate(565 577.1) rotate(-90)" font-size="14" text-anchor="middle">.8</text>
<text transform="translate(565 520.6) rotate(-90)" font-size="14" text-anchor="middle">1</text>
<path d="M65.0 813 v6 M142.7 813 v6 M220.3 813 v6 M298.0 813 v6 M375.7 813 v6 M453.3 813 v6 M531.0 813 v6 M55.3 803.2 h-6 M55.3 746.8 h-6 M55.3 690.3 h-6 M55.3 633.9 h-6 M55.3 577.4 h-6 M55.3 521.0 h-6 M540.8 803.3 h6 M540.8 746.8 h6 M540.8 690.2 h6 M540.8 633.7 h6 M540.8 577.1 h6 M540.8 520.6 h6" stroke="#454545" stroke-width="1.3"/>
<text x="298.0" y="851.3" font-size="14" text-anchor="middle" textLength="74.3" lengthAdjust="spacingAndGlyphs">Coefficients</text>
<text transform="translate(25.1 662.1) rotate(-90)" font-size="15" text-anchor="middle" textLength="132.4" lengthAdjust="spacingAndGlyphs">kdensity of estimates</text>
<text transform="translate(578.4 662.1) rotate(-90)" font-size="15" text-anchor="middle" textLength="42" lengthAdjust="spacingAndGlyphs">pvalue</text>
<rect x="145.8" y="863.3" width="304.3" height="28.1" fill="none" stroke="#454545" stroke-width="1.3" stroke-linejoin="round" rx="0.6"/>
<line x1="152.2" y1="877.3" x2="209.5" y2="877.3" stroke="#dc5868" stroke-width="1.2"/>
<text x="219" y="881.9" font-size="14" textLength="133.9" lengthAdjust="spacingAndGlyphs">kdensity of estimates</text>
<circle cx="383.7" cy="877.3" r="2.5" fill="none" stroke="#4a8fc5" stroke-width="1.25"/>
<text x="396.4" y="881.9" font-size="14">p value</text>
<text x="604.7" y="486.3" font-size="23.5" stroke="#111" stroke-width="0.45" textLength="27" lengthAdjust="spacingAndGlyphs">(d)</text>
<text x="914.5" y="502.2" font-size="18" text-anchor="middle" textLength="105.3" lengthAdjust="spacingAndGlyphs">U: ESI paper</text>
<line x1="672.8" y1="801" x2="1156.1" y2="801" stroke="#a8a8a8" stroke-width="1.3" stroke-dasharray="8.8 4.53"/>
<line x1="1038.6" y1="511.2" x2="1038.6" y2="812.3" stroke="#a8a8a8" stroke-width="1.3" stroke-dasharray="8.8 4.53"/>
<path d="M762.4 787.4 C764.0 785.8 768.7 780.8 772.0 777.6 C775.3 774.4 778.8 771.5 782.2 768.4 C785.6 765.3 789.4 762.3 792.5 759.2 C795.6 756.1 797.2 754.6 800.6 750.0 C804.0 745.4 808.8 737.8 812.9 731.7 C817.0 725.6 821.4 719.6 825.1 713.3 C828.8 707.0 832.2 699.7 835.3 693.9 C838.4 688.1 840.8 684.3 843.5 678.6 C846.2 672.9 848.6 665.8 851.7 659.5 C854.8 653.2 858.7 646.2 861.9 640.7 C865.1 635.2 868.4 631.2 871.1 626.4 C873.8 621.6 875.7 616.7 878.2 612.1 C880.8 607.5 883.7 602.2 886.4 598.8 C889.1 595.4 891.8 593.7 894.5 591.7 C897.2 589.7 900.3 588.4 902.7 586.6 C905.1 584.8 906.9 582.2 908.8 581.0 C910.7 579.8 911.9 579.0 914.1 579.4 C916.4 579.8 919.6 581.8 922.3 583.5 C925.0 585.2 927.7 586.9 930.4 589.6 C933.1 592.3 935.9 596.0 938.6 599.8 C941.3 603.5 944.0 608.4 946.7 612.1 C949.4 615.9 952.2 618.2 954.9 622.3 C957.6 626.4 960.7 631.8 963.1 636.6 C965.5 641.4 967.1 645.7 969.5 651.0 C971.9 656.3 974.4 663.1 977.4 668.4 C980.4 673.7 984.2 677.3 987.6 682.7 C991.0 688.1 994.1 693.9 997.8 701.0 C1001.5 708.1 1005.9 718.4 1010.0 725.5 C1014.1 732.6 1018.5 738.1 1022.3 743.9 C1026.0 749.7 1029.4 755.4 1032.5 760.2 C1035.6 765.0 1037.6 768.8 1040.7 772.5 C1043.8 776.2 1047.2 779.8 1050.9 782.7 C1054.6 785.6 1059.4 788.5 1063.1 789.9 C1066.8 791.3 1069.5 790.3 1073.3 790.9 C1077.0 791.5 1081.0 792.6 1085.6 793.5 C1090.2 794.4 1098.4 795.6 1100.9 796.0" fill="none" stroke="#dc5868" stroke-width="1.2" stroke-linejoin="round"/>
<g fill="none" stroke="#4a8fc5" stroke-width="1.35"><circle cx="971.8" cy="690.3" r="2.75"/><circle cx="886.8" cy="608.8" r="2.75"/><circle cx="923.4" cy="550.0" r="2.75"/><circle cx="1019.1" cy="775.8" r="2.75"/><circle cx="761.8" cy="797.4" r="2.75"/><circle cx="963.7" cy="677.8" r="2.75"/><circle cx="944.4" cy="618.1" r="2.75"/><circle cx="1014.6" cy="769.8" r="2.75"/><circle cx="1052.5" cy="794.0" r="2.75"/><circle cx="859.9" cy="684.9" r="2.75"/><circle cx="956.5" cy="654.5" r="2.75"/><circle cx="819.3" cy="760.2" r="2.75"/><circle cx="898.0" cy="575.7" r="2.75"/><circle cx="977.3" cy="705.7" r="2.75"/><circle cx="894.2" cy="588.1" r="2.75"/><circle cx="980.5" cy="710.9" r="2.75"/><circle cx="842.8" cy="727.7" r="2.75"/><circle cx="849.4" cy="716.7" r="2.75"/><circle cx="929.3" cy="572.8" r="2.75"/><circle cx="899.9" cy="567.6" r="2.75"/><circle cx="928.7" cy="569.7" r="2.75"/><circle cx="902.2" cy="558.3" r="2.75"/><circle cx="937.4" cy="600.1" r="2.75"/><circle cx="871.5" cy="662.1" r="2.75"/><circle cx="1010.1" cy="752.1" r="2.75"/><circle cx="955.6" cy="650.8" r="2.75"/><circle cx="936.4" cy="592.8" r="2.75"/><circle cx="876.3" cy="658.0" r="2.75"/><circle cx="961.9" cy="671.5" r="2.75"/><circle cx="890.2" cy="602.8" r="2.75"/><circle cx="923.2" cy="551.3" r="2.75"/><circle cx="937.0" cy="601.6" r="2.75"/><circle cx="806.0" cy="777.1" r="2.75"/><circle cx="856.7" cy="686.9" r="2.75"/><circle cx="992.3" cy="734.9" r="2.75"/><circle cx="925.2" cy="558.1" r="2.75"/><circle cx="922.3" cy="547.1" r="2.75"/><circle cx="899.6" cy="570.2" r="2.75"/><circle cx="996.7" cy="737.3" r="2.75"/><circle cx="888.8" cy="602.6" r="2.75"/><circle cx="852.3" cy="710.6" r="2.75"/><circle cx="939.0" cy="604.8" r="2.75"/><circle cx="962.6" cy="671.8" r="2.75"/><circle cx="927.9" cy="568.1" r="2.75"/><circle cx="941.7" cy="617.9" r="2.75"/><circle cx="885.5" cy="608.8" r="2.75"/><circle cx="997.4" cy="743.2" r="2.75"/><circle cx="927.5" cy="566.8" r="2.75"/><circle cx="770.0" cy="795.4" r="2.75"/><circle cx="975.0" cy="706.5" r="2.75"/><circle cx="999.6" cy="749.5" r="2.75"/><circle cx="935.3" cy="592.9" r="2.75"/><circle cx="771.0" cy="800.0" r="2.75"/><circle cx="927.0" cy="563.7" r="2.75"/><circle cx="864.1" cy="677.8" r="2.75"/><circle cx="839.8" cy="736.9" r="2.75"/><circle cx="906.1" cy="546.2" r="2.75"/><circle cx="789.9" cy="789.9" r="2.75"/><circle cx="947.7" cy="637.1" r="2.75"/><circle cx="930.2" cy="580.3" r="2.75"/><circle cx="766.3" cy="800.0" r="2.75"/><circle cx="1049.8" cy="795.4" r="2.75"/><circle cx="864.6" cy="674.5" r="2.75"/><circle cx="976.4" cy="703.8" r="2.75"/><circle cx="1012.4" cy="772.3" r="2.75"/><circle cx="920.4" cy="540.9" r="2.75"/><circle cx="835.3" cy="734.2" r="2.75"/><circle cx="897.6" cy="572.2" r="2.75"/><circle cx="829.5" cy="749.7" r="2.75"/><circle cx="889.5" cy="607.8" r="2.75"/><circle cx="840.0" cy="731.6" r="2.75"/><circle cx="972.9" cy="705.7" r="2.75"/><circle cx="952.5" cy="637.2" r="2.75"/><circle cx="874.5" cy="647.4" r="2.75"/><circle cx="908.6" cy="539.7" r="2.75"/><circle cx="869.3" cy="668.6" r="2.75"/><circle cx="909.6" cy="534.8" r="2.75"/><circle cx="879.8" cy="635.9" r="2.75"/><circle cx="954.0" cy="654.0" r="2.75"/><circle cx="893.2" cy="582.5" r="2.75"/><circle cx="1009.1" cy="755.0" r="2.75"/><circle cx="799.4" cy="780.2" r="2.75"/><circle cx="959.1" cy="658.1" r="2.75"/><circle cx="881.9" cy="632.5" r="2.75"/><circle cx="855.6" cy="701.5" r="2.75"/><circle cx="983.2" cy="726.8" r="2.75"/><circle cx="969.0" cy="689.7" r="2.75"/><circle cx="885.1" cy="611.4" r="2.75"/><circle cx="967.9" cy="696.3" r="2.75"/><circle cx="791.3" cy="793.7" r="2.75"/><circle cx="853.1" cy="703.4" r="2.75"/><circle cx="808.4" cy="769.0" r="2.75"/><circle cx="868.0" cy="665.0" r="2.75"/><circle cx="1007.1" cy="759.1" r="2.75"/><circle cx="836.2" cy="737.2" r="2.75"/><circle cx="957.3" cy="652.1" r="2.75"/><circle cx="978.7" cy="711.1" r="2.75"/><circle cx="871.2" cy="663.9" r="2.75"/><circle cx="847.8" cy="709.5" r="2.75"/><circle cx="970.1" cy="693.7" r="2.75"/><circle cx="954.4" cy="652.8" r="2.75"/><circle cx="916.0" cy="527.7" r="2.75"/><circle cx="892.1" cy="594.0" r="2.75"/><circle cx="862.7" cy="681.7" r="2.75"/><circle cx="942.4" cy="620.6" r="2.75"/><circle cx="931.6" cy="580.9" r="2.75"/><circle cx="867.5" cy="669.4" r="2.75"/><circle cx="863.5" cy="681.9" r="2.75"/><circle cx="941.1" cy="607.2" r="2.75"/><circle cx="820.2" cy="764.8" r="2.75"/><circle cx="904.7" cy="549.6" r="2.75"/><circle cx="978.6" cy="706.7" r="2.75"/><circle cx="895.1" cy="583.7" r="2.75"/><circle cx="867.0" cy="679.8" r="2.75"/><circle cx="946.5" cy="632.7" r="2.75"/><circle cx="968.2" cy="690.0" r="2.75"/><circle cx="998.4" cy="744.8" r="2.75"/><circle cx="977.4" cy="711.2" r="2.75"/><circle cx="907.6" cy="541.3" r="2.75"/><circle cx="888.6" cy="605.3" r="2.75"/><circle cx="825.5" cy="759.9" r="2.75"/><circle cx="940.7" cy="608.4" r="2.75"/><circle cx="874.0" cy="656.0" r="2.75"/><circle cx="898.5" cy="570.5" r="2.75"/><circle cx="913.2" cy="525.7" r="2.75"/><circle cx="827.1" cy="740.8" r="2.75"/><circle cx="851.4" cy="712.6" r="2.75"/><circle cx="844.0" cy="719.5" r="2.75"/><circle cx="945.7" cy="631.3" r="2.75"/><circle cx="932.8" cy="585.5" r="2.75"/><circle cx="806.4" cy="767.2" r="2.75"/><circle cx="872.6" cy="652.6" r="2.75"/><circle cx="903.0" cy="559.5" r="2.75"/><circle cx="918.6" cy="534.0" r="2.75"/><circle cx="902.7" cy="556.5" r="2.75"/><circle cx="950.3" cy="641.2" r="2.75"/><circle cx="1039.0" cy="787.2" r="2.75"/><circle cx="866.2" cy="667.7" r="2.75"/><circle cx="996.0" cy="746.0" r="2.75"/><circle cx="941.9" cy="612.1" r="2.75"/><circle cx="913.7" cy="525.0" r="2.75"/><circle cx="895.2" cy="583.4" r="2.75"/><circle cx="911.8" cy="529.3" r="2.75"/><circle cx="889.6" cy="599.4" r="2.75"/><circle cx="901.4" cy="565.4" r="2.75"/><circle cx="856.3" cy="687.5" r="2.75"/><circle cx="891.6" cy="597.1" r="2.75"/><circle cx="980.9" cy="713.1" r="2.75"/><circle cx="837.6" cy="741.2" r="2.75"/><circle cx="896.3" cy="576.1" r="2.75"/><circle cx="988.1" cy="734.2" r="2.75"/><circle cx="947.2" cy="632.5" r="2.75"/><circle cx="990.8" cy="734.2" r="2.75"/><circle cx="1077.4" cy="800.5" r="2.75"/><circle cx="854.7" cy="695.1" r="2.75"/><circle cx="877.6" cy="630.8" r="2.75"/><circle cx="1085.6" cy="801.1" r="2.75"/><circle cx="821.6" cy="762.1" r="2.75"/><circle cx="1008.6" cy="755.4" r="2.75"/><circle cx="991.4" cy="740.0" r="2.75"/><circle cx="914.1" cy="524.8" r="2.75"/><circle cx="838.3" cy="736.3" r="2.75"/><circle cx="885.7" cy="617.2" r="2.75"/><circle cx="880.4" cy="632.6" r="2.75"/><circle cx="844.7" cy="724.7" r="2.75"/><circle cx="908.3" cy="539.4" r="2.75"/><circle cx="830.2" cy="742.0" r="2.75"/><circle cx="1027.3" cy="781.4" r="2.75"/><circle cx="920.1" cy="540.3" r="2.75"/><circle cx="865.3" cy="673.4" r="2.75"/><circle cx="1001.5" cy="755.1" r="2.75"/><circle cx="845.8" cy="722.4" r="2.75"/><circle cx="804.6" cy="775.9" r="2.75"/><circle cx="973.6" cy="705.6" r="2.75"/><circle cx="903.8" cy="553.6" r="2.75"/><circle cx="853.7" cy="706.3" r="2.75"/><circle cx="1075.0" cy="797.4" r="2.75"/><circle cx="843.2" cy="720.5" r="2.75"/><circle cx="961.5" cy="665.5" r="2.75"/><circle cx="1043.7" cy="784.3" r="2.75"/><circle cx="884.6" cy="625.5" r="2.75"/><circle cx="939.6" cy="603.1" r="2.75"/><circle cx="911.1" cy="530.5" r="2.75"/><circle cx="948.6" cy="633.5" r="2.75"/><circle cx="949.7" cy="632.1" r="2.75"/><circle cx="955.8" cy="661.3" r="2.75"/><circle cx="890.8" cy="595.8" r="2.75"/><circle cx="938.0" cy="602.5" r="2.75"/><circle cx="841.9" cy="734.8" r="2.75"/><circle cx="1032.4" cy="783.1" r="2.75"/><circle cx="824.2" cy="749.6" r="2.75"/><circle cx="972.6" cy="692.3" r="2.75"/><circle cx="868.6" cy="662.9" r="2.75"/><circle cx="859.0" cy="693.8" r="2.75"/><circle cx="940.0" cy="610.1" r="2.75"/><circle cx="924.9" cy="557.9" r="2.75"/><circle cx="857.6" cy="691.7" r="2.75"/><circle cx="957.7" cy="659.6" r="2.75"/><circle cx="881.2" cy="631.9" r="2.75"/><circle cx="817.2" cy="768.4" r="2.75"/><circle cx="949.3" cy="637.1" r="2.75"/><circle cx="922.5" cy="547.6" r="2.75"/><circle cx="816.0" cy="767.7" r="2.75"/><circle cx="934.2" cy="589.8" r="2.75"/><circle cx="861.0" cy="698.7" r="2.75"/><circle cx="794.1" cy="793.9" r="2.75"/><circle cx="876.7" cy="641.3" r="2.75"/><circle cx="946.3" cy="634.4" r="2.75"/><circle cx="924.3" cy="554.1" r="2.75"/><circle cx="1031.2" cy="780.2" r="2.75"/><circle cx="944.8" cy="628.2" r="2.75"/><circle cx="981.6" cy="714.0" r="2.75"/><circle cx="869.6" cy="668.2" r="2.75"/><circle cx="873.8" cy="654.0" r="2.75"/><circle cx="1015.0" cy="776.7" r="2.75"/><circle cx="1095.0" cy="802.1" r="2.75"/><circle cx="964.4" cy="680.4" r="2.75"/><circle cx="811.6" cy="774.5" r="2.75"/><circle cx="969.3" cy="699.0" r="2.75"/><circle cx="929.6" cy="575.6" r="2.75"/><circle cx="838.7" cy="734.0" r="2.75"/><circle cx="875.6" cy="652.7" r="2.75"/><circle cx="1101.9" cy="801.1" r="2.75"/><circle cx="1090.0" cy="799.7" r="2.75"/><circle cx="898.7" cy="568.1" r="2.75"/><circle cx="766.3" cy="796.0" r="2.75"/><circle cx="878.4" cy="632.7" r="2.75"/><circle cx="967.1" cy="690.5" r="2.75"/><circle cx="848.8" cy="711.1" r="2.75"/><circle cx="833.9" cy="750.1" r="2.75"/><circle cx="818.8" cy="758.5" r="2.75"/><circle cx="961.0" cy="676.1" r="2.75"/><circle cx="1006.0" cy="757.3" r="2.75"/><circle cx="985.9" cy="726.4" r="2.75"/><circle cx="882.7" cy="623.7" r="2.75"/><circle cx="960.8" cy="673.8" r="2.75"/><circle cx="892.3" cy="592.7" r="2.75"/><circle cx="906.0" cy="546.1" r="2.75"/><circle cx="831.5" cy="738.7" r="2.75"/><circle cx="879.6" cy="643.3" r="2.75"/><circle cx="893.8" cy="589.1" r="2.75"/><circle cx="966.1" cy="687.1" r="2.75"/><circle cx="917.3" cy="531.0" r="2.75"/><circle cx="858.8" cy="686.5" r="2.75"/><circle cx="875.0" cy="652.3" r="2.75"/><circle cx="882.2" cy="631.9" r="2.75"/><circle cx="934.9" cy="596.6" r="2.75"/><circle cx="999.5" cy="754.8" r="2.75"/><circle cx="809.9" cy="773.3" r="2.75"/><circle cx="1034.4" cy="783.3" r="2.75"/><circle cx="862.1" cy="679.0" r="2.75"/><circle cx="926.9" cy="564.9" r="2.75"/><circle cx="1021.8" cy="772.8" r="2.75"/><circle cx="865.9" cy="681.3" r="2.75"/><circle cx="958.4" cy="660.5" r="2.75"/><circle cx="924.0" cy="552.2" r="2.75"/><circle cx="915.1" cy="524.1" r="2.75"/><circle cx="928.5" cy="568.9" r="2.75"/><circle cx="975.4" cy="705.5" r="2.75"/><circle cx="915.8" cy="525.9" r="2.75"/><circle cx="959.5" cy="658.4" r="2.75"/><circle cx="828.8" cy="747.5" r="2.75"/><circle cx="824.8" cy="751.5" r="2.75"/><circle cx="812.5" cy="770.0" r="2.75"/><circle cx="926.5" cy="562.9" r="2.75"/><circle cx="963.5" cy="672.5" r="2.75"/><circle cx="918.8" cy="536.4" r="2.75"/><circle cx="861.4" cy="676.4" r="2.75"/><circle cx="916.9" cy="529.3" r="2.75"/><circle cx="892.9" cy="587.6" r="2.75"/><circle cx="901.8" cy="561.2" r="2.75"/><circle cx="855.2" cy="700.6" r="2.75"/><circle cx="910.1" cy="533.9" r="2.75"/><circle cx="858.1" cy="696.6" r="2.75"/><circle cx="1018.2" cy="774.2" r="2.75"/><circle cx="949.1" cy="638.7" r="2.75"/><circle cx="955.0" cy="645.9" r="2.75"/><circle cx="883.2" cy="625.7" r="2.75"/><circle cx="943.5" cy="626.1" r="2.75"/><circle cx="951.6" cy="638.5" r="2.75"/><circle cx="987.9" cy="734.7" r="2.75"/><circle cx="957.1" cy="658.3" r="2.75"/><circle cx="919.6" cy="538.5" r="2.75"/><circle cx="911.7" cy="530.6" r="2.75"/><circle cx="910.2" cy="532.8" r="2.75"/><circle cx="813.1" cy="770.8" r="2.75"/><circle cx="901.0" cy="562.8" r="2.75"/><circle cx="873.1" cy="661.2" r="2.75"/><circle cx="891.3" cy="594.5" r="2.75"/><circle cx="886.9" cy="603.8" r="2.75"/><circle cx="894.5" cy="583.2" r="2.75"/><circle cx="909.0" cy="539.2" r="2.75"/><circle cx="773.0" cy="797.4" r="2.75"/><circle cx="883.8" cy="621.4" r="2.75"/><circle cx="832.5" cy="739.4" r="2.75"/><circle cx="921.1" cy="541.8" r="2.75"/><circle cx="1016.0" cy="766.4" r="2.75"/><circle cx="848.5" cy="710.7" r="2.75"/><circle cx="907.8" cy="538.7" r="2.75"/><circle cx="919.4" cy="538.1" r="2.75"/><circle cx="907.0" cy="542.8" r="2.75"/><circle cx="944.0" cy="628.3" r="2.75"/><circle cx="822.8" cy="754.8" r="2.75"/><circle cx="846.1" cy="725.7" r="2.75"/><circle cx="934.3" cy="592.1" r="2.75"/><circle cx="935.7" cy="595.4" r="2.75"/><circle cx="841.4" cy="723.8" r="2.75"/><circle cx="899.1" cy="572.0" r="2.75"/><circle cx="872.3" cy="648.7" r="2.75"/><circle cx="850.4" cy="712.7" r="2.75"/><circle cx="1004.7" cy="756.0" r="2.75"/><circle cx="945.3" cy="621.9" r="2.75"/><circle cx="938.4" cy="602.4" r="2.75"/><circle cx="974.6" cy="709.8" r="2.75"/><circle cx="1001.9" cy="757.2" r="2.75"/><circle cx="1040.0" cy="786.0" r="2.75"/><circle cx="930.4" cy="579.8" r="2.75"/><circle cx="953.1" cy="645.5" r="2.75"/><circle cx="914.9" cy="523.2" r="2.75"/><circle cx="897.1" cy="577.9" r="2.75"/><circle cx="887.8" cy="610.3" r="2.75"/><circle cx="933.4" cy="586.3" r="2.75"/><circle cx="917.9" cy="534.2" r="2.75"/><circle cx="774.7" cy="799.0" r="2.75"/><circle cx="993.8" cy="749.0" r="2.75"/><circle cx="906.9" cy="544.6" r="2.75"/><circle cx="925.4" cy="559.3" r="2.75"/><circle cx="1003.5" cy="751.0" r="2.75"/><circle cx="877.2" cy="636.3" r="2.75"/><circle cx="863.2" cy="676.8" r="2.75"/><circle cx="993.3" cy="759.5" r="2.75"/><circle cx="850.6" cy="703.7" r="2.75"/><circle cx="879.0" cy="640.9" r="2.75"/><circle cx="1046.8" cy="791.9" r="2.75"/><circle cx="951.9" cy="653.0" r="2.75"/><circle cx="869.9" cy="664.0" r="2.75"/><circle cx="931.1" cy="577.0" r="2.75"/><circle cx="970.8" cy="692.0" r="2.75"/><circle cx="936.3" cy="594.8" r="2.75"/><circle cx="834.7" cy="742.0" r="2.75"/><circle cx="785.1" cy="793.5" r="2.75"/><circle cx="921.3" cy="543.8" r="2.75"/><circle cx="814.8" cy="767.8" r="2.75"/><circle cx="802.1" cy="781.2" r="2.75"/><circle cx="913.0" cy="527.1" r="2.75"/><circle cx="870.4" cy="665.6" r="2.75"/><circle cx="965.1" cy="677.2" r="2.75"/><circle cx="832.8" cy="735.9" r="2.75"/><circle cx="905.4" cy="548.7" r="2.75"/><circle cx="966.3" cy="698.1" r="2.75"/><circle cx="950.8" cy="643.7" r="2.75"/><circle cx="985.1" cy="720.6" r="2.75"/><circle cx="827.7" cy="746.8" r="2.75"/><circle cx="1050.9" cy="790.9" r="2.75"/><circle cx="989.6" cy="735.0" r="2.75"/><circle cx="932.1" cy="582.1" r="2.75"/><circle cx="797.0" cy="783.2" r="2.75"/><circle cx="959.8" cy="661.3" r="2.75"/><circle cx="1011.8" cy="763.2" r="2.75"/><circle cx="1021.5" cy="772.8" r="2.75"/><circle cx="916.6" cy="529.7" r="2.75"/><circle cx="980.0" cy="718.1" r="2.75"/><circle cx="1003.3" cy="758.1" r="2.75"/><circle cx="786.0" cy="793.1" r="2.75"/><circle cx="971.3" cy="694.1" r="2.75"/><circle cx="910.8" cy="532.9" r="2.75"/><circle cx="948.1" cy="629.2" r="2.75"/><circle cx="905.2" cy="553.5" r="2.75"/><circle cx="953.5" cy="651.5" r="2.75"/><circle cx="986.6" cy="734.5" r="2.75"/><circle cx="942.7" cy="615.3" r="2.75"/><circle cx="982.5" cy="732.8" r="2.75"/><circle cx="983.9" cy="728.1" r="2.75"/><circle cx="965.1" cy="680.8" r="2.75"/><circle cx="881.0" cy="632.5" r="2.75"/><circle cx="994.9" cy="734.0" r="2.75"/><circle cx="925.9" cy="558.4" r="2.75"/><circle cx="1028.4" cy="779.2" r="2.75"/><circle cx="904.0" cy="555.5" r="2.75"/><circle cx="932.9" cy="582.8" r="2.75"/><circle cx="938.6" cy="598.7" r="2.75"/><circle cx="900.4" cy="566.4" r="2.75"/><circle cx="883.6" cy="620.2" r="2.75"/><circle cx="877.8" cy="637.2" r="2.75"/><circle cx="914.5" cy="523.1" r="2.75"/><circle cx="801.5" cy="783.8" r="2.75"/><circle cx="984.7" cy="727.5" r="2.75"/><circle cx="1067.6" cy="799.4" r="2.75"/><circle cx="896.6" cy="578.2" r="2.75"/><circle cx="860.3" cy="679.5" r="2.75"/><circle cx="896.0" cy="579.0" r="2.75"/><circle cx="795.2" cy="787.2" r="2.75"/><circle cx="917.8" cy="533.0" r="2.75"/><circle cx="903.2" cy="556.8" r="2.75"/><circle cx="1024.0" cy="782.5" r="2.75"/><circle cx="931.3" cy="575.9" r="2.75"/><circle cx="1025.8" cy="780.0" r="2.75"/><circle cx="846.9" cy="720.7" r="2.75"/><circle cx="921.7" cy="545.7" r="2.75"/><circle cx="853.0" cy="711.0" r="2.75"/><circle cx="887.7" cy="607.3" r="2.75"/><circle cx="989.3" cy="733.1" r="2.75"/><circle cx="912.4" cy="527.9" r="2.75"/><circle cx="886.3" cy="617.1" r="2.75"/></g>
<path d="M672.2 511.2 V813 H1156.7 V511.2" fill="none" stroke="#454545" stroke-width="1.4" stroke-linejoin="round"/>
<text x="681.5" y="837.6" font-size="14" text-anchor="middle">-.6</text>
<text x="759.1" y="837.6" font-size="14" text-anchor="middle">-.4</text>
<text x="836.7" y="837.6" font-size="14" text-anchor="middle">-.2</text>
<text x="914.2" y="837.6" font-size="14" text-anchor="middle">0</text>
<text x="991.8" y="837.6" font-size="14" text-anchor="middle">.2</text>
<text x="1069.4" y="837.6" font-size="14" text-anchor="middle">.4</text>
<text x="1147.0" y="837.6" font-size="14" text-anchor="middle">.6</text>
<text transform="translate(659.1 803.2) rotate(-90)" font-size="14" text-anchor="middle">0</text>
<text transform="translate(659.1 709.2) rotate(-90)" font-size="14" text-anchor="middle">1</text>
<text transform="translate(659.1 615.2) rotate(-90)" font-size="14" text-anchor="middle">2</text>
<text transform="translate(659.1 521.2) rotate(-90)" font-size="14" text-anchor="middle">3</text>
<text transform="translate(1180.9 803.3) rotate(-90)" font-size="14" text-anchor="middle">0</text>
<text transform="translate(1180.9 746.8) rotate(-90)" font-size="14" text-anchor="middle">.2</text>
<text transform="translate(1180.9 690.2) rotate(-90)" font-size="14" text-anchor="middle">.4</text>
<text transform="translate(1180.9 633.7) rotate(-90)" font-size="14" text-anchor="middle">.6</text>
<text transform="translate(1180.9 577.1) rotate(-90)" font-size="14" text-anchor="middle">.8</text>
<text transform="translate(1180.9 520.6) rotate(-90)" font-size="14" text-anchor="middle">1</text>
<path d="M681.5 813 v6 M759.1 813 v6 M836.7 813 v6 M914.2 813 v6 M991.8 813 v6 M1069.4 813 v6 M1147.0 813 v6 M672.2 803.2 h-6 M672.2 709.2 h-6 M672.2 615.2 h-6 M672.2 521.2 h-6 M1156.7 803.3 h6 M1156.7 746.8 h6 M1156.7 690.2 h6 M1156.7 633.7 h6 M1156.7 577.1 h6 M1156.7 520.6 h6" stroke="#454545" stroke-width="1.3"/>
<text x="914.5" y="851.3" font-size="14" text-anchor="middle" textLength="74.3" lengthAdjust="spacingAndGlyphs">Coefficients</text>
<text transform="translate(642 662.1) rotate(-90)" font-size="15" text-anchor="middle" textLength="132.4" lengthAdjust="spacingAndGlyphs">kdensity of estimates</text>
<text transform="translate(1194.3 662.1) rotate(-90)" font-size="15" text-anchor="middle" textLength="42" lengthAdjust="spacingAndGlyphs">pvalue</text>
<rect x="762.7" y="863.3" width="303.6" height="28.1" fill="none" stroke="#454545" stroke-width="1.3" stroke-linejoin="round" rx="0.6"/>
<line x1="769.1" y1="877.3" x2="826.4" y2="877.3" stroke="#dc5868" stroke-width="1.2"/>
<text x="835.9" y="881.9" font-size="14" textLength="133.9" lengthAdjust="spacingAndGlyphs">kdensity of estimates</text>
<circle cx="1000.6" cy="877.3" r="2.5" fill="none" stroke="#4a8fc5" stroke-width="1.25"/>
<text x="1013.3" y="881.9" font-size="14">p value</text>
</svg></body></html>
